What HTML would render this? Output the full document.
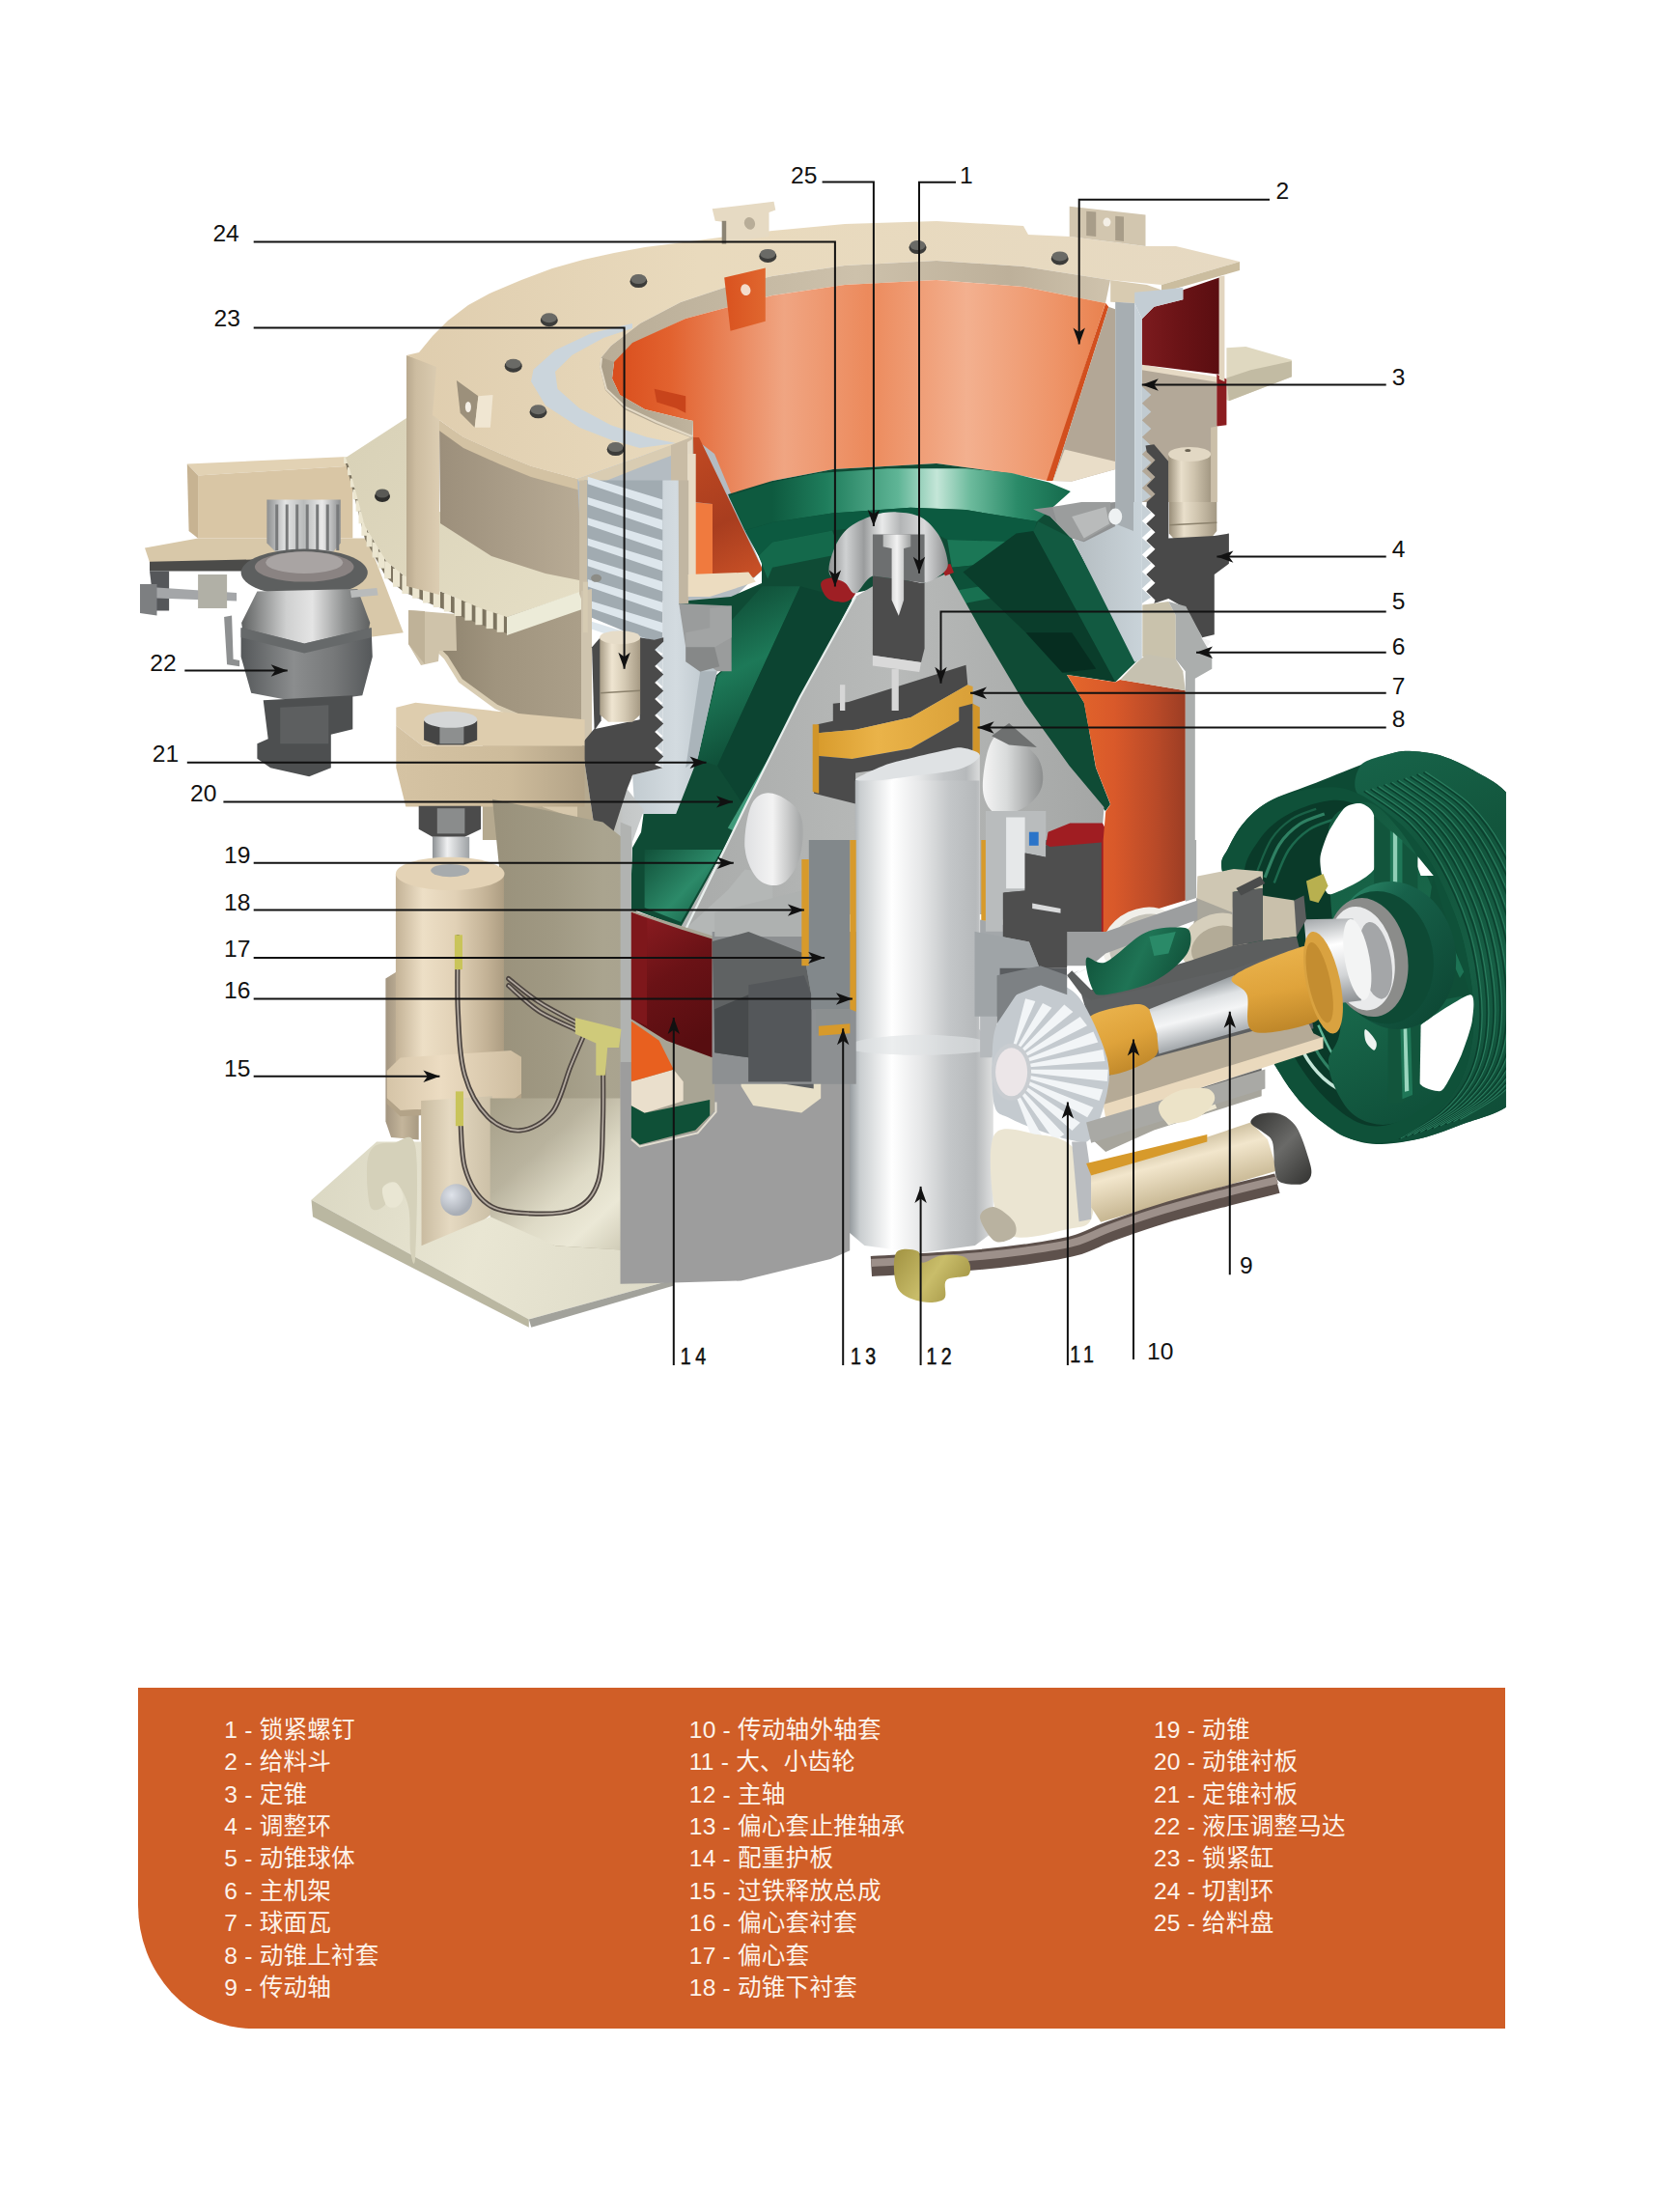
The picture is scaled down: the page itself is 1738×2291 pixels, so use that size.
<!DOCTYPE html>
<html lang="zh"><head><meta charset="utf-8"><title>圆锥破碎机结构图</title>
<style>
html,body{margin:0;padding:0;background:#fff}
body{width:1738px;height:2291px;position:relative;overflow:hidden;font-family:"Liberation Sans","Noto Sans CJK SC",sans-serif}
#dia{position:absolute;left:0;top:0}
#dia text{font-family:"Liberation Sans",sans-serif;font-size:24.6px;fill:#111}
#dia text.nb{font-size:24.5px;letter-spacing:5.6px;stroke:#111;stroke-width:0.55px}
#dia text.sp{letter-spacing:1.5px}
#legend{position:absolute;left:143px;top:1748px;width:1416px;height:353px;background:#d05e27;border-bottom-left-radius:118px 128px}
#legend .li{position:absolute;color:#fdf3ea;font-size:24.6px;line-height:30px;white-space:nowrap;letter-spacing:0.2px}
</style></head><body>
<svg id="dia" width="1738" height="1500" viewBox="0 0 1738 1500">
<defs>
<linearGradient id="g1" gradientUnits="userSpaceOnUse" x1="455.0" y1="0.0" x2="603.0" y2="0.0"><stop offset="0" stop-color="#8f846f"/><stop offset="0.4" stop-color="#a0947e"/><stop offset="1" stop-color="#ab9f89"/></linearGradient>
<linearGradient id="g2" gradientUnits="userSpaceOnUse" x1="358.0" y1="470.0" x2="605.0" y2="650.0"><stop offset="0" stop-color="#d9d2b8"/><stop offset="1" stop-color="#e6dfc6"/></linearGradient>
<linearGradient id="g3" gradientUnits="userSpaceOnUse" x1="455.0" y1="0.0" x2="605.0" y2="0.0"><stop offset="0" stop-color="#9c8f7b"/><stop offset="1" stop-color="#b9ac96"/></linearGradient>
<linearGradient id="g4" gradientUnits="userSpaceOnUse" x1="421.0" y1="0.0" x2="455.0" y2="0.0"><stop offset="0" stop-color="#b9a98e"/><stop offset="0.3" stop-color="#cdbda1"/><stop offset="1" stop-color="#dccdb2"/></linearGradient>
<linearGradient id="g5" gradientUnits="userSpaceOnUse" x1="421.0" y1="0.0" x2="1284.0" y2="0.0"><stop offset="0" stop-color="#dfcdae"/><stop offset="0.35" stop-color="#e9dabd"/><stop offset="1" stop-color="#e6d9c2"/></linearGradient>
<linearGradient id="g6" gradientUnits="userSpaceOnUse" x1="623.0" y1="0.0" x2="1150.0" y2="0.0"><stop offset="0" stop-color="#b9ad97"/><stop offset="0.5" stop-color="#cdc1ab"/><stop offset="0.8" stop-color="#bdb09a"/><stop offset="1" stop-color="#cfc3ad"/></linearGradient>
<linearGradient id="g7" gradientUnits="userSpaceOnUse" x1="633.0" y1="0.0" x2="1145.0" y2="0.0"><stop offset="0" stop-color="#d94d1c"/><stop offset="0.12" stop-color="#e2622f"/><stop offset="0.35" stop-color="#f0a582"/><stop offset="0.52" stop-color="#ec8a5c"/><stop offset="0.72" stop-color="#f3b08f"/><stop offset="0.9" stop-color="#ee9468"/><stop offset="1" stop-color="#e9824f"/></linearGradient>
<linearGradient id="g8" gradientUnits="userSpaceOnUse" x1="621.0" y1="0.0" x2="718.0" y2="0.0"><stop offset="0" stop-color="#a99d87"/><stop offset="1" stop-color="#c0b49e"/></linearGradient>
<linearGradient id="g9" gradientUnits="userSpaceOnUse" x1="718.0" y1="453.0" x2="790.0" y2="590.0"><stop offset="0" stop-color="#c24a22"/><stop offset="0.6" stop-color="#a83d1f"/><stop offset="1" stop-color="#c85026"/></linearGradient>
<linearGradient id="g10" gradientUnits="userSpaceOnUse" x1="750.2" y1="170.0" x2="792.8" y2="170.0"><stop offset="0" stop-color="#d9521f"/><stop offset="1" stop-color="#e0672f"/></linearGradient>
<linearGradient id="g11" gradientUnits="userSpaceOnUse" x1="800.0" y1="130.0" x2="1109.9" y2="130.0"><stop offset="0" stop-color="#0e5a3f"/><stop offset="0.18" stop-color="#1f7d5c"/><stop offset="0.42" stop-color="#5fb596"/><stop offset="0.55" stop-color="#c4e6d8"/><stop offset="0.66" stop-color="#6dbb9d"/><stop offset="0.82" stop-color="#2a8a68"/><stop offset="1" stop-color="#14694b"/></linearGradient>
<linearGradient id="g12" gradientUnits="userSpaceOnUse" x1="757.3" y1="607.3" x2="828.8" y2="750.3"><stop offset="0" stop-color="#0e4a34"/><stop offset="0.5" stop-color="#1d7958"/><stop offset="1" stop-color="#0f4f38"/></linearGradient>
<linearGradient id="g13" gradientUnits="userSpaceOnUse" x1="667.6" y1="870.0" x2="747.7" y2="945.1"><stop offset="0" stop-color="#0e4a34"/><stop offset="0.6" stop-color="#2c8a69"/><stop offset="1" stop-color="#12583f"/></linearGradient>
<linearGradient id="g14" gradientUnits="userSpaceOnUse" x1="707.3" y1="500.0" x2="1143.5" y2="500.0"><stop offset="0" stop-color="#a9abaa"/><stop offset="0.5" stop-color="#b8bab9"/><stop offset="1" stop-color="#a4a6a5"/></linearGradient>
<linearGradient id="g15" gradientUnits="userSpaceOnUse" x1="1018.4" y1="500.0" x2="1079.1" y2="500.0"><stop offset="0" stop-color="#f4f4f4"/><stop offset="0.4" stop-color="#d9dbdb"/><stop offset="1" stop-color="#8e9090"/></linearGradient>
<linearGradient id="g16" gradientUnits="userSpaceOnUse" x1="771.6" y1="500.0" x2="828.8" y2="500.0"><stop offset="0" stop-color="#dfe0e2"/><stop offset="0.5" stop-color="#f3f3f3"/><stop offset="1" stop-color="#a8aaaa"/></linearGradient>
<linearGradient id="g17" gradientUnits="userSpaceOnUse" x1="857.4" y1="500.0" x2="982.6" y2="500.0"><stop offset="0" stop-color="#8d8f90"/><stop offset="0.15" stop-color="#cfd1d2"/><stop offset="0.3" stop-color="#9a9c9d"/><stop offset="0.45" stop-color="#e9eaea"/><stop offset="0.6" stop-color="#b3b5b6"/><stop offset="0.8" stop-color="#d8d9da"/><stop offset="1" stop-color="#8a8c8d"/></linearGradient>
<linearGradient id="g18" gradientUnits="userSpaceOnUse" x1="914.7" y1="500.0" x2="943.3" y2="500.0"><stop offset="0" stop-color="#b9bbbb"/><stop offset="0.5" stop-color="#f2f2f2"/><stop offset="1" stop-color="#9fa1a1"/></linearGradient>
<linearGradient id="g19" gradientUnits="userSpaceOnUse" x1="843.1" y1="500.0" x2="1007.6" y2="500.0"><stop offset="0" stop-color="#d79a2b"/><stop offset="0.4" stop-color="#eab349"/><stop offset="1" stop-color="#d9a038"/></linearGradient>
<linearGradient id="g20" gradientUnits="userSpaceOnUse" x1="886.1" y1="500.0" x2="1016.6" y2="500.0"><stop offset="0" stop-color="#8e9498"/><stop offset="0.08" stop-color="#c9cdcf"/><stop offset="0.3" stop-color="#ffffff"/><stop offset="0.5" stop-color="#e6e7e8"/><stop offset="0.7" stop-color="#c3c6c8"/><stop offset="0.88" stop-color="#b6b9bb"/><stop offset="1" stop-color="#dfe0e0"/></linearGradient>
<linearGradient id="g21" gradientUnits="userSpaceOnUse" x1="878.7" y1="780.0" x2="1028.8" y2="780.0"><stop offset="0" stop-color="#8e9498"/><stop offset="0.08" stop-color="#c9cdcf"/><stop offset="0.3" stop-color="#ffffff"/><stop offset="0.5" stop-color="#e6e7e8"/><stop offset="0.7" stop-color="#c3c6c8"/><stop offset="0.88" stop-color="#b6b9bb"/><stop offset="1" stop-color="#dfe0e0"/></linearGradient>
<linearGradient id="g22" gradientUnits="userSpaceOnUse" x1="657.6" y1="520.0" x2="742.7" y2="520.0"><stop offset="0" stop-color="#c3ccd1"/><stop offset="0.5" stop-color="#d3dbe0"/><stop offset="1" stop-color="#b9c3c9"/></linearGradient>
<linearGradient id="g23" gradientUnits="userSpaceOnUse" x1="624.0" y1="0.0" x2="667.0" y2="0.0"><stop offset="0" stop-color="#b3af9f"/><stop offset="0.5" stop-color="#c3c6c6"/><stop offset="1" stop-color="#c9cccc"/></linearGradient>
<linearGradient id="g24" gradientUnits="userSpaceOnUse" x1="621.3" y1="520.0" x2="663.1" y2="520.0"><stop offset="0" stop-color="#a89c86"/><stop offset="0.3" stop-color="#efe5d1"/><stop offset="0.6" stop-color="#d6cbb5"/><stop offset="1" stop-color="#a69a84"/></linearGradient>
<linearGradient id="g25" gradientUnits="userSpaceOnUse" x1="410.3" y1="520.0" x2="605.6" y2="520.0"><stop offset="0" stop-color="#d5c3a3"/><stop offset="0.6" stop-color="#cdbb9b"/><stop offset="1" stop-color="#b3a387"/></linearGradient>
<linearGradient id="g26" gradientUnits="userSpaceOnUse" x1="1182.8" y1="170.0" x2="1262.8" y2="170.0"><stop offset="0" stop-color="#7c1b1e"/><stop offset="0.5" stop-color="#6a1316"/><stop offset="1" stop-color="#5a0e11"/></linearGradient>
<linearGradient id="g27" gradientUnits="userSpaceOnUse" x1="1210.3" y1="170.0" x2="1254.1" y2="170.0"><stop offset="0" stop-color="#9c917c"/><stop offset="0.3" stop-color="#e9dfcb"/><stop offset="0.6" stop-color="#cfc4ae"/><stop offset="1" stop-color="#a39883"/></linearGradient>
<linearGradient id="g28" gradientUnits="userSpaceOnUse" x1="1105.2" y1="520.0" x2="1227.8" y2="520.0"><stop offset="0" stop-color="#e4672b"/><stop offset="0.4" stop-color="#d9592a"/><stop offset="0.75" stop-color="#b94a28"/><stop offset="1" stop-color="#9c3d24"/></linearGradient>
<linearGradient id="g29" gradientUnits="userSpaceOnUse" x1="1110.2" y1="520.0" x2="1182.8" y2="520.0"><stop offset="0" stop-color="#b4bcc0"/><stop offset="1" stop-color="#c9d3d9"/></linearGradient>
<linearGradient id="g30" gradientUnits="userSpaceOnUse" x1="1211.5" y1="520.0" x2="1260.3" y2="520.0"><stop offset="0" stop-color="#9c917c"/><stop offset="0.3" stop-color="#e9dfcb"/><stop offset="0.6" stop-color="#cfc4ae"/><stop offset="1" stop-color="#a39883"/></linearGradient>
<linearGradient id="g31" gradientUnits="userSpaceOnUse" x1="1105.2" y1="870.0" x2="1227.8" y2="870.0"><stop offset="0" stop-color="#e4672b"/><stop offset="0.4" stop-color="#d9592a"/><stop offset="0.75" stop-color="#b94a28"/><stop offset="1" stop-color="#9c3d24"/></linearGradient>
<linearGradient id="g32" gradientUnits="userSpaceOnUse" x1="510.0" y1="780.0" x2="653.0" y2="780.0"><stop offset="0" stop-color="#99917b"/><stop offset="0.45" stop-color="#a09983"/><stop offset="0.8" stop-color="#aaa48f"/><stop offset="1" stop-color="#a9a38f"/></linearGradient>
<linearGradient id="g33" gradientUnits="userSpaceOnUse" x1="448.0" y1="780.0" x2="486.2" y2="780.0"><stop offset="0" stop-color="#8d9194"/><stop offset="0.4" stop-color="#f0f1f2"/><stop offset="1" stop-color="#9da1a4"/></linearGradient>
<linearGradient id="g34" gradientUnits="userSpaceOnUse" x1="399.4" y1="780.0" x2="433.7" y2="780.0"><stop offset="0" stop-color="#a39580"/><stop offset="0.5" stop-color="#c4b59b"/><stop offset="1" stop-color="#a89a82"/></linearGradient>
<linearGradient id="g35" gradientUnits="userSpaceOnUse" x1="409.9" y1="780.0" x2="521.9" y2="780.0"><stop offset="0" stop-color="#c3b296"/><stop offset="0.25" stop-color="#eddfc6"/><stop offset="0.55" stop-color="#e1d1b6"/><stop offset="0.85" stop-color="#c2b195"/><stop offset="1" stop-color="#ad9d82"/></linearGradient>
<linearGradient id="g36" gradientUnits="userSpaceOnUse" x1="400.8" y1="780.0" x2="540.0" y2="780.0"><stop offset="0" stop-color="#d5c4a7"/><stop offset="0.4" stop-color="#ecdcc2"/><stop offset="1" stop-color="#cdbc9f"/></linearGradient>
<linearGradient id="g37" gradientUnits="userSpaceOnUse" x1="436.1" y1="780.0" x2="510.0" y2="780.0"><stop offset="0" stop-color="#c9bba0"/><stop offset="0.4" stop-color="#e5d9c1"/><stop offset="1" stop-color="#cbbfa6"/></linearGradient>
<linearGradient id="g38" gradientUnits="userSpaceOnUse" x1="507.7" y1="1137.5" x2="650.4" y2="1290.2"><stop offset="0" stop-color="#a69f88"/><stop offset="0.35" stop-color="#b9b39e"/><stop offset="0.6" stop-color="#dedac6"/><stop offset="0.8" stop-color="#ebe8d6"/><stop offset="1" stop-color="#cfcbb6"/></linearGradient>
<linearGradient id="g39" gradientUnits="userSpaceOnUse" x1="322.5" y1="1225.1" x2="675.4" y2="1325.3"><stop offset="0" stop-color="#dbd8c3"/><stop offset="0.5" stop-color="#e9e6d3"/><stop offset="1" stop-color="#dedbc8"/></linearGradient>
<radialGradient id="g40" gradientUnits="userSpaceOnUse" cx="467.7" cy="1237.7" r="20.0"><stop offset="0" stop-color="#dfe3ea"/><stop offset="1" stop-color="#a9aeb6"/></radialGradient>
<linearGradient id="g41" gradientUnits="userSpaceOnUse" x1="653.9" y1="945.1" x2="737.7" y2="1070.2"><stop offset="0" stop-color="#8f1d22"/><stop offset="0.5" stop-color="#6a1216"/><stop offset="1" stop-color="#570d10"/></linearGradient>
<clipPath id="pclip"><rect x="1200" y="760" width="359.8" height="480"/></clipPath>
<linearGradient id="g42" gradientUnits="userSpaceOnUse" x1="1410.0" y1="781.2" x2="1558.8" y2="1163.8"><stop offset="0" stop-color="#176349"/><stop offset="0.3" stop-color="#12553c"/><stop offset="0.6" stop-color="#165e44"/><stop offset="1" stop-color="#0f4d37"/></linearGradient>
<linearGradient id="g43" gradientUnits="userSpaceOnUse" x1="1376.0" y1="845.0" x2="1514.1" y2="1142.5"><stop offset="0" stop-color="#14593f"/><stop offset="0.5" stop-color="#1a6b4d"/><stop offset="1" stop-color="#0f4f39"/></linearGradient>
<linearGradient id="g44" gradientUnits="userSpaceOnUse" x1="1388.8" y1="919.4" x2="1505.6" y2="1061.8"><stop offset="0" stop-color="#2f8e6d"/><stop offset="0.3" stop-color="#17614a"/><stop offset="1" stop-color="#0c4431"/></linearGradient>
<linearGradient id="g45" gradientUnits="userSpaceOnUse" x1="1350.5" y1="951.2" x2="1367.5" y2="1042.6"><stop offset="0" stop-color="#9fa3a6"/><stop offset="0.35" stop-color="#ffffff"/><stop offset="0.7" stop-color="#d3d5d7"/><stop offset="1" stop-color="#8f9396"/></linearGradient>
<linearGradient id="g46" gradientUnits="userSpaceOnUse" x1="1125.2" y1="970.1" x2="1232.8" y2="1020.2"><stop offset="0" stop-color="#0f5038"/><stop offset="0.5" stop-color="#1f7455"/><stop offset="1" stop-color="#0e4a34"/></linearGradient>
<linearGradient id="g47" gradientUnits="userSpaceOnUse" x1="1145.2" y1="1045.2" x2="1170.2" y2="1110.3"><stop offset="0" stop-color="#e9b14a"/><stop offset="0.5" stop-color="#dfa33b"/><stop offset="1" stop-color="#c0882a"/></linearGradient>
<linearGradient id="g48" gradientUnits="userSpaceOnUse" x1="1232.8" y1="1020.2" x2="1247.8" y2="1080.3"><stop offset="0" stop-color="#8f9599"/><stop offset="0.3" stop-color="#dfe2e4"/><stop offset="0.55" stop-color="#f4f5f6"/><stop offset="1" stop-color="#9fa4a8"/></linearGradient>
<linearGradient id="g49" gradientUnits="userSpaceOnUse" x1="1315.4" y1="987.6" x2="1330.4" y2="1065.2"><stop offset="0" stop-color="#e9b14a"/><stop offset="0.5" stop-color="#dfa33b"/><stop offset="1" stop-color="#c0882a"/></linearGradient>
<linearGradient id="g50" gradientUnits="userSpaceOnUse" x1="1212.8" y1="1182.6" x2="1227.8" y2="1240.2"><stop offset="0" stop-color="#cdbf9f"/><stop offset="0.35" stop-color="#f2e6cc"/><stop offset="1" stop-color="#c9b995"/></linearGradient>
<linearGradient id="g51" gradientUnits="userSpaceOnUse" x1="1295.4" y1="1162.6" x2="1355.4" y2="1220.1"><stop offset="0" stop-color="#3c3c3a"/><stop offset="0.5" stop-color="#6a6a68"/><stop offset="1" stop-color="#3a3a38"/></linearGradient>
<linearGradient id="g52" gradientUnits="userSpaceOnUse" x1="927.8" y1="1295.2" x2="1002.9" y2="1347.8"><stop offset="0" stop-color="#a39443"/><stop offset="0.5" stop-color="#c9bd6a"/><stop offset="1" stop-color="#9a8b3c"/></linearGradient>
<linearGradient id="g53" gradientUnits="userSpaceOnUse" x1="276.4" y1="520.0" x2="352.8" y2="520.0"><stop offset="0" stop-color="#8d8f90"/><stop offset="0.25" stop-color="#e3e4e4"/><stop offset="0.5" stop-color="#b9bbbb"/><stop offset="0.75" stop-color="#e9e9e9"/><stop offset="1" stop-color="#8d8f90"/></linearGradient>
<linearGradient id="g54" gradientUnits="userSpaceOnUse" x1="250.1" y1="520.0" x2="383.3" y2="520.0"><stop offset="0" stop-color="#5f6161"/><stop offset="0.35" stop-color="#cfd0d0"/><stop offset="0.55" stop-color="#e4e4e4"/><stop offset="0.8" stop-color="#8f9191"/><stop offset="1" stop-color="#5f6161"/></linearGradient>
<linearGradient id="g55" gradientUnits="userSpaceOnUse" x1="249.6" y1="520.0" x2="385.8" y2="520.0"><stop offset="0" stop-color="#55585a"/><stop offset="0.4" stop-color="#8b8d8e"/><stop offset="0.7" stop-color="#77797a"/><stop offset="1" stop-color="#55585a"/></linearGradient>
</defs>
<g id="machine">
<polygon points="193.8,480.5 360.3,472.9 365.3,482.5 205.1,492.5" fill="#e2d2b4" />
<polygon points="205.1,492.5 365.3,482.5 365.3,557.5 205.1,557.5" fill="#d9c6a5" />
<polygon points="193.8,480.5 205.1,492.5 205.1,557.5 195.6,550.0" fill="#c7b392" />
<polygon points="150.0,567.6 205.1,557.5 280.2,557.5 380.3,557.5 417.8,655.2 380.3,660.2 270.2,580.1 155.0,582.6" fill="#d8c8a9" />
<polygon points="155.0,581.8 270.2,579.3 270.2,591.6 155.0,591.6" fill="#4b4b49" />
<polygon points="155.0,591.6 175.1,591.6 175.1,632.6 160.0,632.6" fill="#55575a" />
<polygon points="147.5,607.6 245.1,613.9 245.1,622.6 147.5,618.9" fill="#a4a6a8" />
<polygon points="145.0,605.1 162.5,605.1 162.5,637.6 145.0,635.1" fill="#7d7f81" />
<polygon points="205.1,595.1 235.1,595.1 235.1,630.1 205.1,630.1" fill="#b1b0a6" />
<polygon points="473.0,600.0 603.0,600.0 603.0,768.0 561.0,750.0 514.0,730.0 477.0,703.0 462.0,680.0 455.0,674.0 470.0,650.0" fill="url(#g1)" />
<polyline points="455.0,674.0 462.0,681.0 477.0,705.0 514.0,732.0 561.0,752.0 603.0,770.0" fill="none" stroke="#d9cdb3" stroke-width="5.00" />
<polygon points="423.0,632.0 472.0,636.0 473.0,674.0 455.0,674.0 454.0,685.0 436.0,689.0 423.0,667.0" fill="#cfc3aa" />
<polygon points="423.0,632.0 440.0,633.0 440.0,688.0 423.0,667.0" fill="#bfb298" />
<polygon points="358.0,474.0 362.0,485.0 378.0,545.0 400.0,581.0 418.0,596.0 445.0,608.0 472.0,619.0 498.0,630.0 525.0,639.0 525.0,656.0 498.0,647.0 472.0,636.0 445.0,625.0 418.0,613.0 400.0,598.0 378.0,558.3 362.0,494.7 358.0,480.0" fill="#7d7460"/>
<rect x="356.1" y="473.0" width="3.8" height="7.0" fill="#ece6d0"/>
<rect x="360.0" y="484.1" width="4.1" height="8.1" fill="#ece6d0"/>
<rect x="362.9" y="495.5" width="4.4" height="9.2" fill="#ece6d0"/>
<rect x="365.7" y="506.9" width="4.7" height="10.3" fill="#ece6d0"/>
<rect x="368.6" y="518.3" width="5.1" height="11.4" fill="#ece6d0"/>
<rect x="371.5" y="529.7" width="5.4" height="12.6" fill="#ece6d0"/>
<rect x="374.4" y="541.1" width="5.7" height="13.7" fill="#ece6d0"/>
<rect x="379.6" y="551.5" width="6.0" height="14.8" fill="#ece6d0"/>
<rect x="385.6" y="561.6" width="6.3" height="15.9" fill="#ece6d0"/>
<rect x="391.6" y="571.6" width="6.6" height="17.0" fill="#ece6d0"/>
<rect x="398.1" y="581.3" width="6.9" height="18.1" fill="#ece6d0"/>
<rect x="407.0" y="588.8" width="7.2" height="19.0" fill="#ece6d0"/>
<rect x="416.4" y="595.9" width="7.2" height="19.0" fill="#ece6d0"/>
<rect x="427.2" y="600.7" width="7.2" height="19.0" fill="#ece6d0"/>
<rect x="438.0" y="605.5" width="7.2" height="19.0" fill="#ece6d0"/>
<rect x="448.8" y="610.0" width="7.2" height="19.0" fill="#ece6d0"/>
<rect x="459.8" y="614.5" width="7.2" height="19.0" fill="#ece6d0"/>
<rect x="470.7" y="619.0" width="7.2" height="19.0" fill="#ece6d0"/>
<rect x="481.5" y="623.6" width="7.2" height="19.0" fill="#ece6d0"/>
<rect x="492.4" y="628.2" width="7.2" height="19.0" fill="#ece6d0"/>
<rect x="503.6" y="632.1" width="7.2" height="19.0" fill="#ece6d0"/>
<rect x="514.7" y="635.8" width="7.2" height="19.0" fill="#ece6d0"/>
<polygon points="358.0,474.0 421.0,433.0 455.0,420.0 455.0,530.0 605.0,560.0 605.0,612.0 525.0,639.0 498.0,630.0 472.0,619.0 445.0,608.0 418.0,596.0 400.0,581.0 378.0,545.0 362.0,485.0" fill="url(#g2)" />
<ellipse cx="396.0" cy="514.0" rx="8.0" ry="6.0" fill="#2e2e2c" />
<ellipse cx="396.0" cy="511.0" rx="7.0" ry="4.5" fill="#5a5a56" />
<ellipse cx="441.0" cy="533.0" rx="8.0" ry="6.0" fill="#2e2e2c" />
<ellipse cx="441.0" cy="530.0" rx="7.0" ry="4.5" fill="#5a5a56" />
<polygon points="525.0,639.0 603.0,612.0 603.0,631.0 525.0,658.0" fill="#ecebd8" />
<polygon points="455.0,436.0 480.0,453.0 518.0,470.0 550.0,483.0 605.0,498.0 605.0,602.0 565.0,594.0 509.0,576.0 456.0,542.0" fill="url(#g3)" />
<polygon points="448.0,430.0 480.0,453.0 518.0,470.0 550.0,483.0 598.0,496.0 605.0,498.0 605.0,509.0 550.0,494.0 518.0,481.0 480.0,464.0 448.0,441.0" fill="#d3c2a3" />
<polygon points="421.0,368.0 455.0,378.0 455.0,616.0 421.0,607.0" fill="url(#g4)" />
<polygon points="421.0,368.0 434.0,365.0 448.0,348.0 464.0,332.0 485.0,316.0 507.0,304.0 540.0,290.0 572.0,278.0 604.0,269.0 636.0,262.0 668.0,256.0 700.0,252.0 745.0,246.0 800.0,239.0 875.0,232.0 970.0,229.0 1060.0,234.0 1065.0,243.0 1108.0,245.0 1186.0,255.0 1218.0,255.0 1284.0,271.0 1203.0,295.0 1150.0,290.0 1060.0,276.0 970.0,270.0 875.0,275.0 800.0,286.0 750.0,298.0 705.0,313.0 663.0,335.0 633.0,358.0 623.0,370.0 625.0,388.0 655.0,420.0 680.0,435.0 718.0,453.0 663.0,473.0 598.0,496.0 550.0,483.0 518.0,470.0 480.0,453.0 448.0,430.0 452.0,380.0" fill="url(#g5)" />
<polygon points="1284.0,271.0 1284.0,280.0 1203.0,303.0 1203.0,295.0" fill="#cbbd9f" />
<polygon points="655.0,335.0 612.6,345.0 575.0,362.7 552.5,382.8 550.0,395.0 565.0,420.0 600.0,442.8 632.6,455.4 662.6,464.0 700.0,459.0 670.0,452.8 632.6,440.3 600.0,422.8 577.5,402.8 575.0,385.0 592.6,367.7 625.0,350.0 655.0,340.0" fill="#cbd5dc" />
<polygon points="1150.0,290.0 1060.0,276.0 970.0,270.0 875.0,275.0 800.0,286.0 750.0,298.0 705.0,313.0 663.0,335.0 633.0,358.0 623.0,370.0 636.0,377.0 655.0,356.0 710.0,330.0 800.0,306.0 875.0,295.0 970.0,290.0 1060.0,297.0 1145.0,314.0" fill="url(#g6)" />
<polygon points="636.0,375.0 655.0,355.0 710.0,330.0 800.0,306.0 875.0,295.0 970.0,290.0 1060.0,297.0 1145.0,314.0 1085.0,498.0 1045.0,490.0 970.0,480.0 863.0,486.0 800.0,498.0 755.0,518.0 718.0,453.0 718.0,436.0 711.0,434.5 668.0,424.0 642.0,409.0 634.0,392.0" fill="url(#g7)" />
<polygon points="623.0,370.0 621.0,379.0 627.0,404.0 647.0,424.0 679.0,439.0 717.5,454.0 718.0,436.0 711.0,434.5 668.0,424.0 642.0,409.0 634.0,392.0 636.0,375.0" fill="url(#g8)" />
<polyline points="623.0,371.0 622.0,380.0 628.0,403.0 648.0,422.0 680.0,437.0 717.0,452.0" fill="none" stroke="#e4dac6" stroke-width="2.00" />
<polygon points="677.7,402.8 710.2,410.3 710.2,427.8 700.2,422.8 680.2,416.5" fill="#c8441b" />
<polygon points="1145.2,313.9 1148.2,317.7 1090.6,497.9 1083.9,497.9" fill="#d24f1e" />
<polygon points="598.0,496.0 663.0,473.0 718.0,453.0 740.0,470.0 790.0,590.0 757.0,622.0 605.0,622.0" fill="#b4bcc2" />
<polygon points="598.0,496.0 663.0,473.0 695.0,461.0 695.0,472.0 663.0,484.0 605.0,507.0" fill="#d9ccb2" />
<polygon points="695.0,461.0 718.0,452.0 718.0,600.0 695.0,640.0" fill="#c9bca5" />
<polygon points="712.0,458.0 717.0,455.0 717.0,598.0 712.0,600.0" fill="#e3d9c6" />
<polygon points="716.0,520.0 738.0,522.0 738.0,595.0 716.0,595.0" fill="#f07a3e" />
<polygon points="718.0,453.0 724.0,453.0 790.0,590.0 781.0,598.0 738.0,595.0 738.0,522.0 719.0,520.0" fill="url(#g9)" />
<polygon points="750.2,287.6 792.8,277.6 792.8,332.7 756.5,342.7" fill="url(#g10)" />
<ellipse cx="772.3" cy="300.2" rx="5.0" ry="6.0" fill="#f3dccb" transform="rotate(-20.0 772.3 300.2)" />
<polygon points="737.7,216.3 801.5,208.8 803.3,217.6 796.5,220.1 796.5,245.1 750.2,251.3 750.2,230.1 740.7,228.8" fill="#e6dac3" />
<polygon points="747.7,228.8 752.2,228.8 752.2,252.6 747.7,252.6" fill="#8c8474" />
<ellipse cx="776.5" cy="231.3" rx="5.5" ry="6.5" fill="#b8ad98" transform="rotate(-20.0 776.5 231.3)" />
<polygon points="1107.7,213.8 1186.5,222.6 1186.5,255.1 1107.7,245.1" fill="#d2c6af" />
<polygon points="1125.2,218.8 1135.2,219.6 1135.2,245.1 1125.2,244.1" fill="#a89d89" />
<polygon points="1155.2,223.8 1164.0,224.6 1164.0,250.1 1155.2,249.1" fill="#a89d89" />
<ellipse cx="1146.5" cy="230.1" rx="4.0" ry="4.5" fill="#f4efe6" />
<ellipse cx="661.4" cy="291.6" rx="9.0" ry="6.5" fill="#3c3c3a" />
<ellipse cx="661.4" cy="289.1" rx="8.0" ry="5.0" fill="#6a6a66" />
<ellipse cx="568.8" cy="331.7" rx="9.0" ry="6.5" fill="#3c3c3a" />
<ellipse cx="568.8" cy="329.2" rx="8.0" ry="5.0" fill="#6a6a66" />
<ellipse cx="795.3" cy="265.4" rx="9.0" ry="6.5" fill="#3c3c3a" />
<ellipse cx="795.3" cy="262.9" rx="8.0" ry="5.0" fill="#6a6a66" />
<ellipse cx="950.5" cy="256.6" rx="9.0" ry="6.5" fill="#3c3c3a" />
<ellipse cx="950.5" cy="254.1" rx="8.0" ry="5.0" fill="#6a6a66" />
<ellipse cx="557.5" cy="426.8" rx="9.0" ry="6.5" fill="#3c3c3a" />
<ellipse cx="557.5" cy="424.3" rx="8.0" ry="5.0" fill="#6a6a66" />
<ellipse cx="637.6" cy="465.6" rx="9.0" ry="6.5" fill="#3c3c3a" />
<ellipse cx="637.6" cy="463.1" rx="8.0" ry="5.0" fill="#6a6a66" />
<ellipse cx="531.7" cy="379.2" rx="9.0" ry="6.5" fill="#3c3c3a" />
<ellipse cx="531.7" cy="376.7" rx="8.0" ry="5.0" fill="#6a6a66" />
<ellipse cx="1097.7" cy="267.9" rx="9.0" ry="6.5" fill="#3c3c3a" />
<ellipse cx="1097.7" cy="265.4" rx="8.0" ry="5.0" fill="#6a6a66" />
<polygon points="472.9,394.0 495.4,410.3 491.7,442.8 476.7,427.8" fill="#9c907b" />
<polygon points="495.4,410.3 510.5,409.0 507.9,442.8 491.7,442.8" fill="#f0e6d2" />
<ellipse cx="484.9" cy="421.5" rx="3.0" ry="5.5" fill="#f4efe6" />
<polygon points="754.0,512.0 800.0,498.0 863.0,486.0 970.0,480.0 1045.0,490.0 1075.0,500.0 1088.0,535.0 1110.0,558.0 1178.0,684.0 1155.0,706.0 1105.0,699.0 1123.0,728.0 1135.0,795.0 1150.0,833.0 1145.0,840.0 1062.0,748.0 962.0,612.0 950.0,600.0 886.0,614.0 829.0,722.0 772.0,836.0 707.0,961.0 659.0,943.0 652.0,960.0 655.0,878.0 664.0,862.0 667.0,840.0 695.0,843.0 718.0,787.0 741.0,700.0 757.0,686.0 757.0,629.0 707.0,632.0 702.0,623.0 757.0,618.0 789.0,604.0 789.0,582.0" fill="#0f4b35" />
<polygon points="754.7,513.8 800.0,499.5 847.7,490.0 919.2,485.2 1000.2,485.2 1047.9,490.0 1086.1,499.5 1108.9,509.0 1074.1,540.0 1000.2,528.1 943.0,525.7 862.0,531.4 800.0,541.0 771.4,549.5" fill="url(#g11)" />
<polygon points="771.4,549.5 800.0,541.0 862.0,531.4 943.0,525.7 1000.2,528.1 1074.1,540.0 1067.0,561.5 981.2,559.1 943.0,540.0 862.0,549.5 800.0,561.5 785.7,575.8" fill="#0c5a40" />
<polygon points="981.2,559.1 1067.0,561.5 1078.9,578.2 985.9,587.7" fill="#1b7756" />
<polygon points="985.9,587.7 1078.9,578.2 1086.1,594.8 990.7,611.5" fill="#0d5139" />
<polygon points="990.7,611.5 1086.1,594.8 1090.8,606.8 995.5,625.8" fill="#187050" />
<polygon points="785.7,575.8 800.0,561.5 862.0,549.5 871.5,573.4 800.0,587.7 795.2,599.6" fill="#14694b" />
<polygon points="789.5,607.3 828.8,607.3 743.0,793.2 721.6,786.1 743.0,700.2 757.3,685.9 757.3,643.0" fill="url(#g12)" />
<polygon points="828.8,607.3 882.5,621.6 771.6,836.1 743.0,793.2" fill="#0c4431" />
<polygon points="864.6,668.1 871.8,671.6 760.9,861.1 753.8,857.6" fill="#3f9a7a" />
<polygon points="667.6,880.0 747.7,880.0 705.2,955.1 667.6,940.1" fill="url(#g13)" />
<polygon points="1075.1,540.0 1110.2,557.5 1177.7,683.9 1155.2,706.5 1070.1,550.0" fill="#125a41" />
<polygon points="997.5,592.6 1062.6,655.2 1100.2,696.5 1155.2,706.5 1070.1,550.0 1052.6,552.5" fill="#0a3d2b" />
<polygon points="1062.6,655.2 1110.2,655.2 1135.2,692.7 1100.2,696.5" fill="#062d20" />
<polygon points="705.2,960.1 755.2,870.0 840.3,870.0 840.3,975.1 737.7,975.1" fill="#b4b7b6" />
<polygon points="886.1,618.0 903.9,607.3 957.6,603.7 982.6,593.0 1014.8,650.2 1061.3,728.8 1107.7,793.2 1143.5,836.1 1141.7,861.1 1136.4,861.1 1125.6,975.6 1039.8,975.6 1039.8,947.0 800.2,947.0 800.2,904.1 771.6,900.5 753.8,921.9 710.8,961.3 771.6,836.1 828.8,721.7" fill="url(#g14)" />
<polyline points="886.1,618.0 828.8,721.7 771.6,836.1 710.8,961.3" fill="none" stroke="#e9efed" stroke-width="2.20" />
<path d="M1021.9,782.5 C1024.3,772.3 1027.9,764.0 1032.7,761.0 C1037.4,758.0 1043.4,760.4 1050.5,764.6 C1057.7,768.8 1070.8,777.7 1075.6,786.1 C1080.3,794.4 1081.5,806.3 1079.1,814.7 C1076.8,823.0 1069.0,831.3 1061.3,836.1 C1053.5,840.9 1039.8,845.6 1032.7,843.3 C1025.5,840.9 1020.1,831.9 1018.4,821.8 C1016.6,811.7 1019.5,792.6 1021.9,782.5Z" fill="url(#g15)" />
<polygon points="1027.1,762.3 1045.1,749.0 1073.9,774.1 1045.1,771.5" fill="#6e7070" />
<path d="M778.8,832.5 C783.6,823.0 791.9,820.0 800.2,821.8 C808.6,823.6 824.1,832.5 828.8,843.3 C833.6,854.0 831.8,874.3 828.8,886.2 C825.9,898.1 818.1,910.6 811.0,914.8 C803.8,919.0 792.5,917.2 785.9,911.2 C779.4,905.2 772.8,892.1 771.6,879.0 C770.4,865.9 774.0,842.1 778.8,832.5Z" fill="url(#g16)" />
<polygon points="903.9,596.5 957.6,603.7 957.6,671.6 954.0,685.9 903.9,678.8" fill="#4c4c4c" />
<polygon points="903.9,678.8 954.0,685.9 952.2,695.9 903.9,689.5" fill="#d9d9d9" />
<path d="M850.3,603.7 C851.5,600.1 859.2,598.3 864.6,598.3 C870.0,598.3 878.9,601.0 882.5,603.7 C886.1,606.4 887.2,611.1 886.1,614.4 C884.9,617.7 880.1,622.5 875.3,623.4 C870.6,624.3 861.6,623.1 857.4,619.8 C853.3,616.5 849.1,607.3 850.3,603.7Z" fill="#9e1f24" />
<polygon points="973.7,585.8 984.4,584.0 988.0,593.0 979.0,596.5" fill="#a02024" />
<path d="M859.2,594.8 C857.2,589.4 859.8,579.3 862.8,571.5 C865.8,563.8 870.3,554.5 877.1,548.3 C884.0,542.0 895.3,536.9 903.9,534.0 C912.6,531.0 920.6,530.1 929.0,530.4 C937.3,530.7 946.8,531.9 954.0,535.8 C961.1,539.6 967.4,546.8 971.9,553.6 C976.3,560.5 979.6,570.6 980.8,576.9 C982.0,583.1 982.9,586.7 979.0,591.2 C975.1,595.6 965.3,602.5 957.6,603.7 C949.8,604.9 941.5,599.5 932.5,598.3 C923.6,597.1 911.7,593.9 903.9,596.5 C896.2,599.2 890.8,613.2 886.1,614.4 C881.3,615.6 879.8,607.0 875.3,603.7 C870.9,600.4 861.3,600.1 859.2,594.8Z" fill="url(#g17)" />
<polygon points="903.9,553.6 957.6,553.6 957.6,603.7 903.9,596.5" fill="#6d6f70" />
<polygon points="914.7,553.6 943.3,553.6 943.3,566.2 936.1,567.9 936.1,621.6 930.8,637.7 923.6,621.6 923.6,567.9 914.7,566.2" fill="url(#g18)" />
<polygon points="846.7,750.3 862.8,746.7 862.8,728.8 878.9,727.1 1000.5,688.8 1002.3,709.2 943.3,743.1 886.1,755.7 846.7,759.2" fill="#494949" />
<polygon points="843.1,750.3 846.7,759.2 886.1,755.7 943.3,743.1 1002.3,709.2 1007.6,711.0 1007.6,736.0 993.3,746.7 943.3,775.3 882.5,786.1 843.1,782.5" fill="url(#g19)" />
<polygon points="843.1,782.5 882.5,786.1 943.3,775.3 993.3,746.7 993.3,732.4 1007.6,728.8 1007.6,778.9 993.3,786.1 886.1,800.4 886.1,832.5 843.1,821.8" fill="#4b4b4b" />
<polygon points="841.7,750.3 848.2,750.3 848.2,821.8 841.7,820.0" fill="#d1952a" />
<polygon points="1007.6,728.8 1014.8,732.4 1014.8,782.5 1007.6,778.9" fill="#d1952a" />
<polygon points="923.6,693.1 930.8,693.1 930.8,736.0 923.6,736.0" fill="#d6d6d6" />
<polygon points="870.0,709.2 875.3,709.2 875.3,736.0 870.0,736.0" fill="#d6d6d6" />
<polygon points="886.1,807.5 943.3,786.1 996.9,775.3 1014.8,782.5 1014.8,999.9 886.1,999.9" fill="url(#g20)" />
<path d="M886.1,807.5 C887.2,805.0 905.1,796.9 914.7,793.2 C924.2,789.5 932.5,788.0 943.3,785.3 C954.0,782.7 970.1,778.9 979.0,777.1 C988.0,775.3 990.9,773.7 996.9,774.6 C1002.9,775.5 1015.4,778.8 1014.8,782.5 C1014.2,786.2 1005.2,793.2 993.3,796.8 C981.4,800.4 957.6,802.0 943.3,803.9 C929.0,805.8 917.0,807.6 907.5,808.2 C898.0,808.8 884.9,810.0 886.1,807.5Z" fill="#dfe2e4" />
<polygon points="885.8,808.6 1014.5,808.6 1014.5,1066.1 1028.8,1085.1 1028.8,1275.8 1009.8,1290.1 952.6,1297.8 895.4,1290.1 878.7,1275.8 878.7,1085.1 885.8,1066.1" fill="url(#g21)" />
<path d="M878.7,1085.1 C878.7,1082.9 883.0,1078.8 895.4,1076.5 C907.7,1074.3 933.5,1071.9 952.6,1071.8 C971.6,1071.6 997.1,1073.4 1009.8,1075.6 C1022.5,1077.8 1028.8,1082.7 1028.8,1085.1 C1028.8,1087.5 1022.5,1088.6 1009.8,1089.9 C997.1,1091.2 971.6,1092.8 952.6,1092.8 C933.5,1092.8 907.7,1091.2 895.4,1089.9 C883.0,1088.6 878.7,1087.4 878.7,1085.1Z" fill="#dfe2e4" opacity="0.6"/>
<polygon points="1016.3,870.0 1021.3,870.0 1021.3,953.8 1016.3,953.8" fill="#d79a2b" />
<polygon points="1021.3,870.0 1041.3,870.0 1041.3,952.6 1021.3,952.6" fill="#c9ccce" />
<polygon points="1040.1,870.0 1142.7,870.0 1142.7,967.6 1130.2,970.1 1130.2,987.6 1105.2,1000.2 1070.1,965.1 1040.1,952.6" fill="#5f6263" />
<polygon points="1070.1,870.0 1142.7,870.0 1142.7,920.1 1100.2,927.6 1070.1,915.1" fill="#505355" />
<polygon points="1015.1,952.6 1070.1,965.1 1105.2,1000.2 1032.6,1010.2 1015.1,1010.2" fill="#a3a7aa" />
<polygon points="1015.1,1010.2 1032.6,1010.2 1032.6,1060.2 1027.6,1095.3 1015.1,1095.3" fill="#b5b9bc" />
<polygon points="1020.9,840.0 1083.3,840.0 1083.3,887.7 1061.6,883.4 1061.6,922.5 1038.8,924.6 1038.8,964.8 1020.9,964.8" fill="#b9bcbd" />
<polygon points="1042.1,846.5 1061.6,846.5 1061.6,920.3 1042.1,920.3" fill="#e6e8e9" />
<polygon points="1065.9,861.7 1075.7,861.7 1075.7,875.8 1065.9,875.8" fill="#2b74c9" />
<polygon points="1061.6,883.4 1083.3,887.7 1083.3,875.8 1140.8,872.5 1140.8,965.9 1107.2,970.2 1105.0,1002.7 1076.8,1002.7 1065.9,975.6 1038.8,970.2 1038.8,924.6 1061.6,922.5" fill="#4e4e4e" />
<polygon points="1083.3,874.7 1085.5,861.7 1108.3,852.5 1141.9,852.5 1144.6,857.4 1144.6,964.8 1140.8,965.9 1140.8,872.5 1087.6,876.9" fill="#a01d22" />
<polygon points="1069.2,935.5 1098.5,940.9 1098.5,945.8 1069.2,940.9" fill="#d9dadb" />
<polygon points="1009.5,964.8 1065.9,975.6 1076.8,1002.7 1035.6,1002.7 1035.6,1052.7 1009.5,1052.7" fill="#9fa4a7" />
<polygon points="1035.6,1002.7 1105.0,1002.7 1105.0,1024.4 1035.6,1052.7" fill="#5a5d60" />
<polygon points="1041.0,1049.4 1045.3,1047.2 1076.8,1017.9 1072.5,1020.1" fill="#8d9194" />
<polygon points="1051.3,1043.4 1055.6,1041.3 1087.1,1014.7 1082.8,1016.9" fill="#8d9194" />
<polygon points="1061.6,1037.5 1065.9,1035.3 1097.4,1011.4 1093.1,1013.6" fill="#8d9194" />
<polygon points="1071.9,1031.5 1076.3,1029.3 1107.7,1008.2 1103.4,1010.3" fill="#8d9194" />
<polygon points="1082.2,1025.5 1086.6,1023.4 1118.0,1004.9 1113.7,1007.1" fill="#8d9194" />
<polygon points="1092.5,1019.6 1096.9,1017.4 1128.3,1001.7 1124.0,1003.8" fill="#8d9194" />
<polygon points="499.9,740.3 550.0,745.3 602.6,770.3 617.6,869.9 499.9,869.9" fill="#b5a98f" />
<polyline points="539.0,840.0 631.0,868.0" fill="none" stroke="#e3d9c3" stroke-width="4.00" />
<polygon points="562.0,790.0 598.0,790.0 598.0,848.0 562.0,836.0" fill="#d6c7ab" />
<polygon points="605.1,497.5 686.4,497.5 686.4,670.2 607.6,637.6" fill="#a1abb1" />
<polygon points="608.8,493.7 686.4,517.5 686.4,527.5 608.8,501.2" fill="#dde6ec" />
<polygon points="608.8,515.0 686.4,538.8 686.4,548.8 608.8,522.5" fill="#dde6ec" />
<polygon points="608.8,536.3 686.4,560.0 686.4,570.1 608.8,543.8" fill="#dde6ec" />
<polygon points="608.8,557.5 686.4,581.3 686.4,591.3 608.8,565.1" fill="#dde6ec" />
<polygon points="608.8,578.8 686.4,602.6 686.4,612.6 608.8,586.3" fill="#dde6ec" />
<polygon points="608.8,600.1 686.4,623.9 686.4,633.9 608.8,607.6" fill="#dde6ec" />
<polygon points="608.8,621.4 686.4,645.1 686.4,655.2 608.8,628.9" fill="#dde6ec" />
<polygon points="608.8,642.6 686.4,666.4 686.4,676.4 608.8,650.2" fill="#dde6ec" />
<polygon points="600.1,497.5 608.1,497.5 608.1,637.6 600.1,615.1" fill="#c9bda6" />
<polygon points="602.0,612.0 613.0,610.0 613.0,768.0 602.0,766.0" fill="#cfc4ae" />
<polygon points="712.7,469.9 720.7,469.9 720.7,617.6 712.7,617.6" fill="#e8dcc6" />
<polygon points="700.2,497.5 713.2,497.5 713.2,625.1 702.7,625.1" fill="#c1b6a2" />
<polygon points="712.7,595.1 775.3,592.6 782.8,602.6 735.2,618.1 712.7,618.1" fill="#ecdcc0" />
<polygon points="686.4,497.5 702.7,497.5 703.2,625.1 710.2,660.2 742.7,695.2 722.7,785.3 700.2,842.9 657.6,842.9 655.1,802.8 686.4,795.3" fill="url(#g22)" />
<polygon points="686.4,660.2 686.4,660.2 677.2,668.7 686.4,677.2 677.2,685.7 686.4,694.2 677.2,702.7 686.4,711.2 677.2,719.7 686.4,728.2 677.2,736.8 686.4,745.3 677.2,753.8 686.4,762.3 677.2,770.8 686.4,779.3 677.2,787.8 686.4,795.3" fill="#cfd7dc" />
<polygon points="725.2,695.2 742.7,695.2 722.7,785.3 710.2,795.3" fill="#aab4ba" />
<polygon points="703.2,625.1 757.7,627.6 757.7,695.2 742.7,695.2 710.2,670.2" fill="#9a9c9c" />
<polygon points="642.0,808.0 667.0,839.0 655.0,872.0 652.0,960.0 627.0,960.0 624.0,872.0 633.0,855.0 655.0,805.0" fill="url(#g23)" />
<polygon points="613.1,670.2 622.6,659.2 622.6,746.5 615.6,756.5" fill="#4a4a4a" />
<polygon points="735.2,630.1 757.7,627.6 757.7,660.2 740.2,670.2 710.2,670.2 710.2,655.2 735.2,650.2" fill="#a2a4a4" />
<polygon points="710.2,670.2 740.2,670.2 745.2,690.2 725.2,695.7 710.2,685.2" fill="#868888" />
<polygon points="662.6,660.2 677.7,662.7 687.2,660.2 687.2,664.4 678.2,672.9 687.2,681.4 678.2,690.0 687.2,698.5 678.2,707.0 687.2,715.5 678.2,724.0 687.2,732.5 678.2,741.0 687.2,749.5 678.2,758.0 687.2,766.5 678.2,775.1 687.2,783.6 678.2,792.1 686.4,795.3 655.1,802.8 650.1,815.4 632.6,869.9 617.6,869.9 602.6,770.3 615.1,755.3 662.6,745.3" fill="#4a4a4a" />
<polygon points="621.3,660.2 663.1,660.2 663.1,740.3 655.1,747.8 630.1,747.8 621.3,740.3" fill="url(#g24)" />
<ellipse cx="642.1" cy="660.2" rx="21.0" ry="7.0" fill="#e6dcc8" />
<polyline points="622.1,717.7 663.1,715.2" fill="none" stroke="#8b816c" stroke-width="1.50" />
<polygon points="603.8,602.6 608.8,602.6 608.8,655.2 603.8,655.2" fill="#d6cbb2" />
<ellipse cx="617.6" cy="598.8" rx="5.5" ry="4.0" fill="#8c8c86" />
<polygon points="410.3,732.8 430.4,727.7 550.0,740.3 605.6,745.3 605.6,772.8 495.4,772.8 437.9,772.8 410.3,751.5" fill="#decdae" />
<polygon points="410.3,751.5 437.9,772.8 605.6,772.8 605.6,835.4 420.3,835.4 410.3,795.3" fill="url(#g25)" />
<polygon points="439.1,746.5 494.2,746.5 494.2,766.5 480.4,771.5 452.9,771.5 439.1,766.5" fill="#454545" />
<polygon points="455.4,746.5 480.4,746.5 480.4,770.3 455.4,770.3" fill="#8d8f8f" />
<ellipse cx="466.7" cy="745.3" rx="27.5" ry="8.5" fill="#d5d7d8" />
<polygon points="1148.2,317.7 1155.2,320.2 1155.2,485.9 1110.2,498.4 1090.6,497.9" fill="#b3a796" />
<polygon points="1090.6,497.9 1102.7,465.4 1155.2,477.9 1155.2,485.9 1110.2,498.4" fill="#e9ddc8" />
<polygon points="1150.2,290.1 1187.8,295.1 1202.8,300.2 1175.2,313.9 1150.2,312.7" fill="#d8cbb1" />
<polygon points="1182.8,377.7 1260.3,392.8 1260.3,519.9 1182.8,519.9" fill="#b3a898" />
<polygon points="1182.8,377.7 1260.3,390.3 1260.3,395.8 1182.8,383.3" fill="#e6dac5" />
<polygon points="1270.4,360.2 1290.4,359.0 1337.9,372.7 1337.9,390.3 1272.9,415.3 1270.4,414.0" fill="#dfd8c0" />
<polygon points="1270.4,391.5 1295.4,383.3 1337.9,374.0 1337.9,390.3 1272.9,415.3" fill="#c2bba3" />
<polygon points="1182.8,330.2 1195.3,317.7 1225.3,310.2 1225.3,300.2 1262.8,287.6 1262.8,387.8 1182.8,377.7" fill="url(#g26)" />
<polygon points="1260.3,387.8 1270.4,392.8 1270.4,440.3 1260.3,441.6" fill="#8b1d20" />
<polygon points="1262.8,286.4 1268.4,285.6 1268.4,395.3 1262.8,392.8" fill="#e2d5bf" />
<polygon points="1175.2,302.7 1202.8,300.2 1225.3,297.7 1225.3,310.2 1195.3,317.7 1182.8,330.2 1175.2,313.9" fill="#c3cdd4" />
<polygon points="1155.2,312.7 1175.2,313.9 1175.2,519.9 1155.2,519.9" fill="#a7aeb2" />
<polygon points="1175.2,313.9 1182.8,330.2 1182.8,519.9 1175.2,519.9" fill="#c8d2d9" />
<polygon points="1182.8,395.3 1182.8,400.3 1192.3,409.0 1182.8,417.8 1192.3,426.6 1182.8,435.3 1192.3,444.1 1182.8,452.8 1192.3,461.6 1182.8,470.4 1192.3,479.1 1182.8,487.9 1192.3,496.6 1182.8,505.4 1192.3,514.2 1182.8,519.9" fill="#c1cbd1" />
<polygon points="1186.5,461.6 1195.3,460.3 1210.3,477.9 1210.3,519.9 1187.8,519.9 1196.5,511.7 1187.8,502.9 1196.5,494.1 1187.8,485.4 1196.5,476.6 1187.8,467.9" fill="#494949" />
<polygon points="1210.3,470.4 1254.1,470.4 1254.1,519.9 1210.3,519.9" fill="url(#g27)" />
<ellipse cx="1232.1" cy="470.4" rx="22.0" ry="7.5" fill="#e2d8c4" />
<ellipse cx="1230.3" cy="466.6" rx="3.0" ry="1.5" fill="#6b6353" />
<polygon points="1254.1,442.8 1260.8,441.6 1260.8,519.9 1254.1,519.9" fill="#cbbfa9" />
<polygon points="1105.2,699.0 1155.2,706.5 1160.2,704.0 1227.8,715.2 1227.8,869.9 1142.7,869.9 1145.2,840.4 1150.2,832.9 1135.2,795.3 1122.7,727.7" fill="url(#g28)" />
<polygon points="1155.2,520.0 1182.8,520.0 1182.8,682.7 1175.2,685.7 1111.4,558.8 1122.7,560.0 1150.2,543.8 1155.2,542.5" fill="url(#g29)" />
<polygon points="1155.2,520.0 1174.0,520.0 1174.0,550.0 1155.2,542.5" fill="#a7aeb2" />
<polygon points="1182.8,520.0 1182.8,522.0 1192.3,530.8 1182.8,539.5 1192.3,548.3 1182.8,557.0 1192.3,565.8 1182.8,574.6 1192.3,583.3 1182.8,592.1 1192.3,600.8 1182.8,609.6 1192.3,618.4 1182.8,625.1" fill="#c6d0d6" />
<polygon points="1070.1,527.5 1090.1,525.0 1155.2,520.0 1155.2,545.0 1122.7,561.3 1110.2,557.5 1087.6,535.0" fill="#8f9192" />
<polygon points="1090.1,525.0 1120.2,520.0 1150.2,520.0 1150.2,543.8 1122.7,560.0 1110.2,557.5 1095.1,542.5" fill="#9b9d9d" />
<polygon points="1110.2,535.0 1145.2,525.0 1149.0,542.5 1122.7,557.5" fill="#b9bbbb" />
<ellipse cx="1155.2" cy="535.0" rx="7.0" ry="8.5" fill="#eef1f2" />
<polygon points="1210.8,520.0 1260.3,520.0 1260.3,550.0 1250.3,562.6 1220.3,563.1 1210.8,552.5" fill="url(#g30)" />
<polyline points="1211.5,543.8 1260.3,541.3" fill="none" stroke="#8b816c" stroke-width="1.50" />
<polygon points="1187.8,520.0 1210.3,520.0 1210.3,557.5 1257.8,555.0 1272.9,552.5 1272.9,583.8 1257.8,595.1 1257.8,657.2 1245.3,660.2 1227.8,630.1 1210.3,620.1 1195.3,625.1 1196.5,621.4 1187.3,612.6 1196.5,603.8 1187.3,595.1 1196.5,586.3 1187.3,577.6 1196.5,568.8 1187.3,560.0 1196.5,551.3 1187.3,542.5 1196.5,533.8 1187.3,525.0" fill="#494949" />
<polygon points="1183.3,626.4 1210.3,623.1 1217.8,637.6 1217.8,682.7 1210.3,685.2 1187.8,680.2 1183.3,680.2" fill="#c9c2ac" />
<polygon points="1160.2,704.0 1177.7,685.7 1187.8,677.7 1217.8,682.7 1225.3,695.2 1227.8,715.2" fill="#c6c1b0" />
<polygon points="1210.3,623.1 1228.3,628.1 1245.3,660.2 1255.3,680.2 1255.3,692.7 1237.8,702.7 1237.8,869.9 1227.8,869.9 1227.8,695.2 1217.8,682.7 1217.8,637.6" fill="#abaead" />
<polygon points="1244.1,660.2 1254.1,663.9 1250.3,670.2" fill="#f2f2f2" />
<polygon points="1142.7,870.0 1227.8,870.0 1227.8,932.6 1195.3,942.6 1160.2,965.1 1145.2,987.6 1130.2,987.6 1130.2,970.1 1142.7,967.6" fill="url(#g31)" />
<polygon points="1227.8,870.0 1239.1,870.0 1239.1,930.1 1227.8,933.8" fill="#abaead" />
<polygon points="510.0,827.7 624.4,851.5 648.3,870.6 654.0,875.4 654.0,1318.7 529.1,1318.7 519.5,1209.1 519.5,923.0" fill="url(#g32)" />
<polygon points="433.7,834.8 498.1,834.8 498.1,858.7 481.4,866.8 448.0,866.8 433.7,858.7" fill="#4b4b4b" />
<polygon points="452.8,837.2 481.4,837.2 481.4,863.4 452.8,863.4" fill="#8a8c8c" />
<polygon points="448.0,866.8 486.2,866.8 486.2,904.9 448.0,904.9" fill="url(#g33)" />
<polygon points="399.4,1013.6 414.7,1004.1 433.7,1004.1 433.7,1180.5 405.1,1178.1 399.4,1161.4" fill="url(#g34)" />
<polygon points="409.9,904.9 521.9,904.9 521.9,1125.6 409.9,1125.6" fill="url(#g35)" />
<ellipse cx="466.2" cy="904.9" rx="56.3" ry="17.2" fill="#e4d3b6" />
<ellipse cx="466.2" cy="901.6" rx="20.0" ry="6.7" fill="#a7abad" />
<polygon points="400.8,1109.0 414.7,1095.6 529.1,1088.0 540.0,1094.7 540.0,1132.8 524.3,1144.7 414.7,1150.0 400.8,1137.6" fill="url(#g36)" />
<polygon points="400.8,1137.6 414.7,1150.0 524.3,1144.7 540.0,1132.8 540.0,1138.5 524.3,1150.9 414.7,1156.2 400.8,1143.3" fill="#b3a388" />
<polygon points="436.1,1140.0 510.0,1135.2 510.0,1256.8 455.2,1299.7 436.1,1299.7" fill="url(#g37)" />
<polygon points="642.6,851.5 654.0,856.3 654.0,1323.5 642.6,1323.5" fill="#b1b3b1" />
<polygon points="507.7,1137.5 645.4,1137.5 650.4,1225.1 655.4,1295.2 575.3,1290.2 525.3,1275.2 507.7,1260.2" fill="url(#g38)" />
<polygon points="322.5,1242.7 390.1,1182.6 436.4,1182.6 436.4,1290.2 507.7,1260.2 575.3,1290.2 655.4,1295.2 698.0,1325.3 547.8,1366.6" fill="url(#g39)" />
<polygon points="322.5,1242.7 547.8,1366.6 547.8,1374.8 324.0,1260.2" fill="#bab7a1" />
<polygon points="547.8,1366.6 698.0,1325.3 698.0,1331.5 550.3,1374.8" fill="#a2a29b" />
<path d="M380.1,1207.6 C380.7,1197.2 383.0,1191.6 387.6,1187.6 C392.2,1183.6 400.5,1183.8 407.6,1183.8 C414.7,1183.8 426.4,1168.2 430.2,1187.6 C433.9,1207.0 431.0,1282.3 430.2,1300.2 C429.3,1318.2 426.3,1303.6 425.1,1295.2 C424.0,1286.9 425.6,1261.9 423.1,1250.2 C420.6,1238.5 414.6,1228.5 410.1,1225.1 C405.7,1221.8 398.2,1226.4 396.4,1230.2 C394.5,1233.9 401.0,1244.3 398.9,1247.7 C396.8,1251.0 387.0,1256.9 383.8,1250.2 C380.7,1243.5 379.5,1218.1 380.1,1207.6Z" fill="#d5d1ba" />
<path d="M396.4,1230.2 C398.0,1226.4 406.6,1223.5 410.1,1225.1 C413.7,1226.8 417.6,1236.0 417.6,1240.2 C417.6,1244.3 413.1,1248.9 410.1,1250.2 C407.2,1251.4 402.4,1251.0 400.1,1247.7 C397.8,1244.3 394.7,1233.9 396.4,1230.2Z" fill="#e9e6d3" />
<ellipse cx="472.7" cy="1242.7" rx="16.5" ry="16.5" fill="url(#g40)" />
<polygon points="642.5,1175.1 642.5,1100.0 740.1,1100.0 767.6,1100.0 850.2,1100.0 880.2,1100.0 880.2,1295.2 860.2,1304.0 767.6,1326.5 680.0,1329.0 642.5,1329.8" fill="#9d9d9d" />
<polygon points="653.9,942.6 740.2,970.1 740.2,1150.3 722.7,1171.6 662.6,1185.9 653.9,1177.9" fill="#a8a494" />
<polygon points="653.9,1120.3 697.7,1107.8 707.7,1120.3 707.7,1140.3 667.6,1152.8 653.9,1145.3" fill="#eadfcc" />
<polygon points="653.9,945.1 705.2,962.6 737.7,972.6 737.7,1095.3 690.2,1077.7 653.9,1055.2" fill="url(#g41)" />
<polygon points="653.9,945.1 670.1,951.3 670.1,1062.7 653.9,1055.2" fill="#7e171b" />
<polygon points="653.9,1057.7 682.7,1077.7 697.7,1107.8 653.9,1120.3" fill="#e8601f" />
<polygon points="653.9,1145.3 667.6,1152.8 735.2,1139.1 735.2,1155.3 720.2,1170.4 662.6,1185.4 653.9,1177.9" fill="#0f5037" />
<polyline points="653.9,1179.9 662.6,1187.4 722.7,1173.4 741.5,1151.6 741.5,1141.6" fill="none" stroke="#e3ded0" stroke-width="2.00" />
<polygon points="767.6,1100.0 850.2,1100.0 850.2,1137.5 830.2,1152.6 780.1,1145.1 767.6,1125.0" fill="#e8e0c8" />
<polygon points="775.1,1100.0 842.7,1100.0 842.7,1127.5 780.1,1117.5" fill="#5b5e60" />
<polygon points="737.7,965.1 886.7,965.1 886.7,1122.8 737.7,1122.8" fill="#8d9092" />
<polygon points="740.2,945.1 840.3,920.1 840.3,970.1 740.2,970.1" fill="#aeb1b0" />
<polygon points="737.7,975.1 775.3,965.1 832.8,987.6 840.3,1030.2 840.3,1120.3 775.3,1120.3 775.3,1095.3 740.2,1090.3" fill="#5f6263" />
<polygon points="775.3,1020.2 832.8,1010.2 840.3,1030.2 840.3,1120.3 775.3,1120.3" fill="#54575a" />
<polygon points="740.2,1045.2 775.3,1030.2 775.3,1095.3 740.2,1090.3" fill="#474a4c" />
<polygon points="837.8,870.0 880.4,870.0 880.4,1045.2 840.3,1045.2 840.3,1030.2 832.8,987.6 837.8,945.1" fill="#82888b" />
<polygon points="830.3,890.0 837.8,890.0 837.8,1000.2 830.3,1000.2" fill="#d79a2b" />
<polygon points="880.4,870.0 886.7,870.0 886.7,1047.7 880.4,1045.2" fill="#d79a2b" />
<polygon points="845.4,1045.2 880.4,1045.2 880.4,1075.2 845.4,1070.2" fill="#8b8f90" />
<polygon points="847.9,1062.7 880.4,1060.2 880.4,1070.2 847.9,1072.7" fill="#d79a2b" />
<path d="M474.3,970.7 C474.3,983.4 473.1,1023.1 474.3,1047.0 C475.4,1070.8 476.2,1095.5 481.4,1113.7 C486.6,1132.0 495.7,1147.1 505.2,1156.6 C514.8,1166.2 527.5,1171.7 538.6,1170.9 C549.7,1170.1 563.2,1163.0 572.0,1151.9 C580.7,1140.7 585.5,1117.7 591.1,1104.2 C596.6,1090.7 603.0,1076.4 605.4,1070.8" fill="none" stroke="#4d4540" stroke-width="5.2" stroke-linecap="round"/>
<path d="M474.3,970.7 C474.3,983.4 473.1,1023.1 474.3,1047.0 C475.4,1070.8 476.2,1095.5 481.4,1113.7 C486.6,1132.0 495.7,1147.1 505.2,1156.6 C514.8,1166.2 527.5,1171.7 538.6,1170.9 C549.7,1170.1 563.2,1163.0 572.0,1151.9 C580.7,1140.7 585.5,1117.7 591.1,1104.2 C596.6,1090.7 603.0,1076.4 605.4,1070.8" fill="none" stroke="#b3aaa0" stroke-width="1.8" stroke-linecap="round"/>
<path d="M476.6,1142.3 C477.4,1153.5 476.6,1191.6 481.4,1209.1 C486.2,1226.6 494.1,1239.3 505.2,1247.2 C516.4,1255.2 533.1,1256.0 548.2,1256.8 C563.2,1257.6 583.9,1257.6 595.8,1252.0 C607.7,1246.4 614.9,1238.5 619.7,1223.4 C624.4,1208.3 623.6,1183.7 624.4,1161.4 C625.2,1139.2 624.4,1101.8 624.4,1089.9" fill="none" stroke="#4d4540" stroke-width="5.2" stroke-linecap="round"/>
<path d="M476.6,1142.3 C477.4,1153.5 476.6,1191.6 481.4,1209.1 C486.2,1226.6 494.1,1239.3 505.2,1247.2 C516.4,1255.2 533.1,1256.0 548.2,1256.8 C563.2,1257.6 583.9,1257.6 595.8,1252.0 C607.7,1246.4 614.9,1238.5 619.7,1223.4 C624.4,1208.3 623.6,1183.7 624.4,1161.4 C625.2,1139.2 624.4,1101.8 624.4,1089.9" fill="none" stroke="#b3aaa0" stroke-width="1.8" stroke-linecap="round"/>
<path d="M526.7,1013.6 C531.9,1017.6 545.4,1029.5 557.7,1037.4 C570.0,1045.4 593.4,1057.3 600.6,1061.3" fill="none" stroke="#4d4540" stroke-width="5.2" stroke-linecap="round"/>
<path d="M526.7,1013.6 C531.9,1017.6 545.4,1029.5 557.7,1037.4 C570.0,1045.4 593.4,1057.3 600.6,1061.3" fill="none" stroke="#b3aaa0" stroke-width="1.8" stroke-linecap="round"/>
<path d="M526.7,1020.8 C531.9,1025.1 546.2,1039.4 557.7,1047.0 C569.2,1054.5 589.5,1062.9 595.8,1066.1" fill="none" stroke="#4d4540" stroke-width="5.2" stroke-linecap="round"/>
<path d="M526.7,1020.8 C531.9,1025.1 546.2,1039.4 557.7,1047.0 C569.2,1054.5 589.5,1062.9 595.8,1066.1" fill="none" stroke="#b3aaa0" stroke-width="1.8" stroke-linecap="round"/>
<polygon points="470.9,968.3 479.0,968.3 479.0,1004.1 470.9,1004.1" fill="#c9c45a" />
<polygon points="471.9,1130.4 480.0,1130.4 480.0,1166.2 471.9,1166.2" fill="#c9c45a" />
<polygon points="595.8,1054.1 643.5,1066.1 641.1,1085.1 629.2,1085.1 626.8,1113.7 617.3,1113.7 617.3,1080.4 595.8,1070.8" fill="#cfca7a" />
<g clip-path="url(#pclip)">
<path d="M1265.5,900.2 C1263.7,888.2 1268.0,887.1 1271.9,879.0 C1275.8,870.9 1281.8,859.5 1288.9,851.4 C1296.0,843.2 1303.0,836.5 1314.4,830.1 C1325.7,823.8 1340.9,819.5 1356.9,813.1 C1372.8,806.8 1395.8,797.4 1410.0,791.9 C1424.2,786.4 1433.0,782.5 1441.9,780.2 C1450.7,777.9 1454.3,777.5 1463.1,778.1 C1472.0,778.6 1484.4,780.0 1495.0,783.4 C1505.6,786.7 1515.5,791.5 1526.9,798.2 C1538.2,805.0 1550.6,808.9 1563.0,823.8 C1575.4,838.6 1593.1,859.2 1601.2,887.5 C1609.4,915.8 1611.9,958.3 1611.9,993.8 C1611.9,1029.2 1609.4,1074.9 1601.2,1100.0 C1593.1,1125.1 1577.2,1134.0 1563.0,1144.6 C1548.8,1155.2 1531.1,1158.1 1516.2,1163.8 C1501.4,1169.4 1487.9,1175.1 1473.8,1178.6 C1459.6,1182.2 1443.6,1184.8 1431.2,1185.0 C1418.9,1185.2 1409.3,1183.2 1399.4,1179.7 C1389.5,1176.1 1380.6,1170.3 1371.8,1163.8 C1362.9,1157.2 1354.0,1149.2 1346.2,1140.4 C1338.5,1131.5 1331.0,1120.9 1325.0,1110.6 C1319.0,1100.4 1313.7,1094.7 1310.1,1078.8 C1306.6,1062.8 1308.4,1036.2 1303.8,1015.0 C1299.1,993.8 1288.9,970.4 1282.5,951.2 C1276.1,932.1 1267.3,912.3 1265.5,900.2Z" fill="#0d4a34" />
<path d="M1405.8,821.6 C1400.1,813.1 1405.2,797.4 1410.0,791.9 C1414.8,786.4 1434.8,782.0 1441.9,780.2 C1449.0,778.3 1456.0,777.6 1463.1,778.1 C1470.2,778.5 1486.5,780.7 1495.0,783.4 C1503.5,786.1 1517.8,792.9 1526.9,798.2 C1535.9,803.6 1553.1,811.9 1563.0,823.8 C1572.9,835.6 1594.7,864.8 1601.2,887.5 C1607.8,910.2 1611.9,965.4 1611.9,993.8 C1611.9,1022.1 1607.8,1079.9 1601.2,1100.0 C1594.7,1120.1 1574.3,1136.1 1563.0,1144.6 C1551.7,1153.1 1528.2,1159.2 1516.2,1163.8 C1504.3,1168.3 1483.7,1176.2 1473.8,1178.6 C1463.8,1181.0 1440.5,1184.9 1441.9,1181.8 C1443.3,1178.7 1475.0,1163.3 1484.4,1155.2 C1493.7,1147.2 1506.6,1131.5 1512.0,1121.2 C1517.4,1111.0 1523.0,1091.5 1524.8,1078.8 C1526.5,1066.0 1526.5,1041.2 1524.8,1025.6 C1523.0,1010.0 1517.4,978.9 1512.0,961.9 C1506.6,944.9 1492.3,912.3 1484.4,898.1 C1476.4,884.0 1463.0,865.8 1452.5,855.6 C1442.0,845.4 1411.4,830.1 1405.8,821.6Z" fill="url(#g42)" />
<path d="M1412.6,819.5 C1420.4,825.1 1446.3,840.7 1459.4,853.5 C1472.5,866.2 1481.3,878.2 1491.2,896.0 C1501.2,913.7 1512.1,938.5 1518.9,959.7 C1525.6,981.0 1529.5,1004.0 1531.6,1023.5 C1533.7,1042.9 1533.7,1060.6 1531.6,1076.6 C1529.5,1092.5 1525.6,1106.3 1518.9,1119.1 C1512.1,1131.8 1502.9,1143.0 1491.2,1153.1 C1479.6,1163.2 1455.8,1175.2 1448.7,1179.6" fill="none" stroke="#0b3f2d" stroke-width="1.5"/>
<path d="M1414.5,818.8 C1422.3,824.5 1448.2,840.1 1461.3,852.8 C1474.4,865.6 1483.2,877.6 1493.2,895.3 C1503.1,913.0 1514.0,937.8 1520.8,959.1 C1527.5,980.3 1531.4,1003.3 1533.5,1022.8 C1535.7,1042.3 1535.7,1060.0 1533.5,1075.9 C1531.4,1091.9 1527.5,1105.7 1520.8,1118.4 C1514.0,1131.2 1504.8,1142.4 1493.2,1152.4 C1481.5,1162.5 1457.7,1174.6 1450.7,1179.0" fill="none" stroke="#2b7d5f" stroke-width="1.1"/>
<path d="M1419.5,817.3 C1427.3,823.0 1453.1,838.5 1466.2,851.3 C1479.3,864.0 1488.2,876.1 1498.1,893.8 C1508.0,911.5 1519.0,936.3 1525.7,957.5 C1532.5,978.8 1536.4,1001.8 1538.5,1021.3 C1540.6,1040.8 1540.6,1058.5 1538.5,1074.4 C1536.4,1090.4 1532.5,1104.2 1525.7,1116.9 C1519.0,1129.7 1509.8,1140.8 1498.1,1150.9 C1486.4,1161.0 1462.7,1173.1 1455.6,1177.5" fill="none" stroke="#0b3f2d" stroke-width="1.5"/>
<path d="M1421.4,816.7 C1429.2,822.3 1455.0,837.9 1468.1,850.7 C1481.2,863.4 1490.1,875.4 1500.0,893.2 C1509.9,910.9 1520.9,935.7 1527.6,956.9 C1534.4,978.2 1538.3,1001.2 1540.4,1020.7 C1542.5,1040.1 1542.5,1057.8 1540.4,1073.8 C1538.3,1089.7 1534.4,1103.5 1527.6,1116.3 C1520.9,1129.0 1511.7,1140.2 1500.0,1150.3 C1488.3,1160.4 1464.6,1172.4 1457.5,1176.8" fill="none" stroke="#2b7d5f" stroke-width="1.1"/>
<path d="M1426.3,815.1 C1434.1,820.8 1460.0,836.4 1473.1,849.1 C1486.2,861.9 1495.0,873.9 1505.0,891.6 C1514.9,909.3 1525.9,934.1 1532.6,955.4 C1539.3,976.6 1543.2,999.6 1545.3,1019.1 C1547.5,1038.6 1547.5,1056.3 1545.3,1072.2 C1543.2,1088.2 1539.3,1102.0 1532.6,1114.7 C1525.9,1127.5 1516.7,1138.7 1505.0,1148.7 C1493.3,1158.8 1469.5,1170.9 1462.5,1175.3" fill="none" stroke="#0b3f2d" stroke-width="1.5"/>
<path d="M1428.3,814.5 C1436.0,820.2 1461.9,835.7 1475.0,848.5 C1488.1,861.2 1497.0,873.3 1506.9,891.0 C1516.8,908.7 1527.8,933.5 1534.5,954.7 C1541.2,976.0 1545.1,999.0 1547.3,1018.5 C1549.4,1038.0 1549.4,1055.7 1547.3,1071.6 C1545.1,1087.5 1541.2,1101.4 1534.5,1114.1 C1527.8,1126.9 1518.6,1138.0 1506.9,1148.1 C1495.2,1158.2 1471.5,1170.2 1464.4,1174.7" fill="none" stroke="#2b7d5f" stroke-width="1.1"/>
<path d="M1433.2,813.0 C1441.0,818.6 1466.9,834.2 1480.0,847.0 C1493.1,859.7 1501.9,871.7 1511.8,889.5 C1521.7,907.2 1532.7,932.0 1539.5,953.2 C1546.2,974.5 1550.1,997.5 1552.2,1017.0 C1554.3,1036.4 1554.3,1054.1 1552.2,1070.1 C1550.1,1086.0 1546.2,1099.8 1539.5,1112.6 C1532.7,1125.3 1523.5,1136.5 1511.8,1146.6 C1500.1,1156.7 1476.4,1168.7 1469.3,1173.1" fill="none" stroke="#0b3f2d" stroke-width="1.5"/>
<path d="M1435.1,812.3 C1442.9,818.0 1468.8,833.6 1481.9,846.3 C1495.0,859.1 1503.8,871.1 1513.7,888.8 C1523.7,906.5 1534.6,931.3 1541.4,952.6 C1548.1,973.8 1552.0,996.8 1554.1,1016.3 C1556.2,1035.8 1556.2,1053.5 1554.1,1069.4 C1552.0,1085.4 1548.1,1099.2 1541.4,1111.9 C1534.6,1124.7 1525.4,1135.8 1513.7,1145.9 C1502.1,1156.0 1478.3,1168.1 1471.2,1172.5" fill="none" stroke="#2b7d5f" stroke-width="1.1"/>
<path d="M1440.1,810.8 C1447.9,816.5 1473.7,832.0 1486.8,844.8 C1499.9,857.5 1508.8,869.6 1518.7,887.3 C1528.6,905.0 1539.6,929.8 1546.3,951.0 C1553.0,972.3 1556.9,995.3 1559.1,1014.8 C1561.2,1034.3 1561.2,1052.0 1559.1,1067.9 C1556.9,1083.8 1553.0,1097.7 1546.3,1110.4 C1539.6,1123.2 1530.4,1134.3 1518.7,1144.4 C1507.0,1154.5 1483.3,1166.5 1476.2,1171.0" fill="none" stroke="#0b3f2d" stroke-width="1.5"/>
<path d="M1442.0,810.1 C1449.8,815.8 1475.6,831.4 1488.7,844.1 C1501.8,856.9 1510.7,868.9 1520.6,886.6 C1530.5,904.4 1541.5,929.1 1548.2,950.4 C1555.0,971.6 1558.9,994.7 1561.0,1014.1 C1563.1,1033.6 1563.1,1051.3 1561.0,1067.3 C1558.9,1083.2 1555.0,1097.0 1548.2,1109.8 C1541.5,1122.5 1532.3,1133.7 1520.6,1143.8 C1508.9,1153.9 1485.2,1165.9 1478.1,1170.3" fill="none" stroke="#2b7d5f" stroke-width="1.1"/>
<path d="M1446.9,808.6 C1454.7,814.3 1480.6,829.9 1493.7,842.6 C1506.8,855.4 1515.6,867.4 1525.6,885.1 C1535.5,902.8 1546.5,927.6 1553.2,948.9 C1559.9,970.1 1563.8,993.1 1565.9,1012.6 C1568.1,1032.1 1568.1,1049.8 1565.9,1065.7 C1563.8,1081.7 1559.9,1095.5 1553.2,1108.2 C1546.5,1121.0 1537.2,1132.2 1525.6,1142.2 C1513.9,1152.3 1490.1,1164.4 1483.1,1168.8" fill="none" stroke="#0b3f2d" stroke-width="1.5"/>
<path d="M1448.8,808.0 C1456.6,813.6 1482.5,829.2 1495.6,842.0 C1508.7,854.7 1517.6,866.8 1527.5,884.5 C1537.4,902.2 1548.4,927.0 1555.1,948.2 C1561.8,969.5 1565.7,992.5 1567.8,1012.0 C1570.0,1031.5 1570.0,1049.2 1567.8,1065.1 C1565.7,1081.0 1561.8,1094.9 1555.1,1107.6 C1548.4,1120.4 1539.2,1131.5 1527.5,1141.6 C1515.8,1151.7 1492.1,1163.7 1485.0,1168.2" fill="none" stroke="#2b7d5f" stroke-width="1.1"/>
<path d="M1453.8,806.5 C1461.6,812.1 1487.4,827.7 1500.5,840.5 C1513.7,853.2 1522.5,865.2 1532.4,883.0 C1542.3,900.7 1553.3,925.5 1560.0,946.7 C1566.8,968.0 1570.7,991.0 1572.8,1010.5 C1574.9,1029.9 1574.9,1047.6 1572.8,1063.6 C1570.7,1079.5 1566.8,1093.3 1560.0,1106.1 C1553.3,1118.8 1544.1,1130.0 1532.4,1140.1 C1520.7,1150.2 1497.0,1162.2 1489.9,1166.6" fill="none" stroke="#0b3f2d" stroke-width="1.5"/>
<path d="M1455.7,805.8 C1463.5,811.5 1489.4,827.1 1502.5,839.8 C1515.6,852.6 1524.4,864.6 1534.3,882.3 C1544.3,900.0 1555.2,924.8 1562.0,946.1 C1568.7,967.3 1572.6,990.3 1574.7,1009.8 C1576.8,1029.3 1576.8,1047.0 1574.7,1062.9 C1572.6,1078.9 1568.7,1092.7 1562.0,1105.4 C1555.2,1118.2 1546.0,1129.3 1534.3,1139.4 C1522.6,1149.5 1498.9,1161.6 1491.8,1166.0" fill="none" stroke="#2b7d5f" stroke-width="1.1"/>
<path d="M1460.7,804.3 C1468.5,810.0 1494.3,825.5 1507.4,838.3 C1520.5,851.0 1529.4,863.1 1539.3,880.8 C1549.2,898.5 1560.2,923.3 1566.9,944.5 C1573.6,965.8 1577.5,988.8 1579.7,1008.3 C1581.8,1027.8 1581.8,1045.5 1579.7,1061.4 C1577.5,1077.3 1573.6,1091.2 1566.9,1103.9 C1560.2,1116.7 1551.0,1127.8 1539.3,1137.9 C1527.6,1148.0 1503.9,1160.0 1496.8,1164.5" fill="none" stroke="#0b3f2d" stroke-width="1.5"/>
<path d="M1462.6,803.6 C1470.4,809.3 1496.2,824.9 1509.3,837.6 C1522.4,850.4 1531.3,862.4 1541.2,880.1 C1551.1,897.9 1562.1,922.6 1568.8,943.9 C1575.6,965.1 1579.4,988.2 1581.6,1007.6 C1583.7,1027.1 1583.7,1044.8 1581.6,1060.8 C1579.4,1076.7 1575.6,1090.5 1568.8,1103.3 C1562.1,1116.0 1552.9,1127.2 1541.2,1137.3 C1529.5,1147.4 1505.8,1159.4 1498.7,1163.8" fill="none" stroke="#2b7d5f" stroke-width="1.1"/>
<path d="M1467.5,802.1 C1475.3,807.8 1501.2,823.4 1514.3,836.1 C1527.4,848.9 1536.2,860.9 1546.1,878.6 C1556.1,896.3 1567.0,921.1 1573.8,942.4 C1580.5,963.6 1584.4,986.6 1586.5,1006.1 C1588.6,1025.6 1588.6,1043.3 1586.5,1059.2 C1584.4,1075.2 1580.5,1089.0 1573.8,1101.7 C1567.0,1114.5 1557.8,1125.6 1546.1,1135.7 C1534.5,1145.8 1510.7,1157.9 1503.6,1162.3" fill="none" stroke="#0b3f2d" stroke-width="1.5"/>
<path d="M1469.4,801.5 C1477.2,807.1 1503.1,822.7 1516.2,835.5 C1529.3,848.2 1538.1,860.3 1548.1,878.0 C1558.0,895.7 1569.0,920.5 1575.7,941.7 C1582.4,963.0 1586.3,986.0 1588.4,1005.5 C1590.6,1025.0 1590.6,1042.7 1588.4,1058.6 C1586.3,1074.5 1582.4,1088.4 1575.7,1101.1 C1569.0,1113.9 1559.7,1125.0 1548.1,1135.1 C1536.4,1145.2 1512.6,1157.2 1505.6,1161.7" fill="none" stroke="#2b7d5f" stroke-width="1.1"/>
<path d="M1474.4,800.0 C1482.2,805.6 1508.0,821.2 1521.1,834.0 C1534.2,846.7 1543.1,858.7 1553.0,876.5 C1562.9,894.2 1573.9,919.0 1580.6,940.2 C1587.4,961.5 1591.3,984.5 1593.4,1004.0 C1595.5,1023.4 1595.5,1041.1 1593.4,1057.1 C1591.3,1073.0 1587.4,1086.8 1580.6,1099.6 C1573.9,1112.3 1564.7,1123.5 1553.0,1133.6 C1541.3,1143.7 1517.6,1155.7 1510.5,1160.1" fill="none" stroke="#0b3f2d" stroke-width="1.5"/>
<path d="M1476.3,799.3 C1484.1,805.0 1509.9,820.6 1523.0,833.3 C1536.2,846.1 1545.0,858.1 1554.9,875.8 C1564.8,893.5 1575.8,918.3 1582.5,939.6 C1589.3,960.8 1593.2,983.8 1595.3,1003.3 C1597.4,1022.8 1597.4,1040.5 1595.3,1056.4 C1593.2,1072.4 1589.3,1086.2 1582.5,1098.9 C1575.8,1111.7 1566.6,1122.8 1554.9,1132.9 C1543.2,1143.0 1519.5,1155.1 1512.4,1159.5" fill="none" stroke="#2b7d5f" stroke-width="1.1"/>
<path d="M1318.6,828.0 C1331.7,822.0 1353.0,816.7 1367.5,815.7 C1382.0,814.6 1391.6,815.0 1405.8,821.6 C1419.9,828.3 1439.4,842.9 1452.5,855.6 C1465.6,868.4 1474.5,880.4 1484.4,898.1 C1494.3,915.8 1505.3,940.6 1512.0,961.9 C1518.7,983.1 1522.6,1006.1 1524.8,1025.6 C1526.9,1045.1 1526.9,1062.8 1524.8,1078.8 C1522.6,1094.7 1518.7,1108.5 1512.0,1121.2 C1505.3,1134.0 1496.1,1145.2 1484.4,1155.2 C1472.7,1165.3 1456.0,1177.7 1441.9,1181.8 C1427.7,1185.9 1411.1,1182.7 1399.4,1179.7 C1387.7,1176.7 1380.6,1170.3 1371.8,1163.8 C1362.9,1157.2 1354.0,1149.2 1346.2,1140.4 C1338.5,1131.5 1331.0,1120.9 1325.0,1110.6 C1319.0,1100.4 1313.7,1094.7 1310.1,1078.8 C1306.6,1062.8 1308.4,1036.2 1303.8,1015.0 C1299.1,993.8 1288.9,970.4 1282.5,951.2 C1276.1,932.1 1267.3,912.3 1265.5,900.2 C1263.7,888.2 1268.0,887.1 1271.9,879.0 C1275.8,870.9 1281.1,859.9 1288.9,851.4 C1296.7,842.9 1305.5,834.0 1318.6,828.0Z" fill="#0f5139" />
<path d="M1288.9,908.8 C1287.8,891.8 1296.7,881.1 1303.8,870.5 C1310.8,859.9 1320.0,851.7 1331.4,845.0 C1342.7,838.3 1360.1,832.2 1371.8,830.1 C1383.4,828.0 1390.2,828.4 1401.5,832.2 C1412.8,836.1 1428.8,842.9 1439.8,853.5 C1450.7,864.1 1458.9,879.7 1467.4,896.0 C1475.9,912.3 1484.0,931.4 1490.8,951.2 C1497.5,971.1 1504.6,995.5 1507.8,1015.0 C1510.9,1034.5 1511.3,1052.2 1509.9,1068.1 C1508.5,1084.1 1504.9,1098.2 1499.2,1110.6 C1493.6,1123.0 1485.4,1133.6 1475.9,1142.5 C1466.3,1151.4 1452.9,1160.2 1441.9,1163.8 C1430.9,1167.3 1420.6,1167.3 1410.0,1163.8 C1399.4,1160.2 1388.0,1151.4 1378.1,1142.5 C1368.2,1133.6 1358.3,1122.0 1350.5,1110.6 C1342.7,1099.3 1336.0,1086.9 1331.4,1074.5 C1326.8,1062.1 1326.4,1053.2 1322.9,1036.2 C1319.3,1019.2 1315.8,993.8 1310.1,972.5 C1304.5,951.2 1289.9,925.8 1288.9,908.8Z" fill="#0a3a29" />
<path d="M1310.1,908.8 C1312.6,903.1 1319.0,884.0 1325.0,874.8 C1331.0,865.5 1338.5,858.8 1346.2,853.5 C1354.0,848.2 1367.5,844.6 1371.8,842.9" fill="none" stroke="#2f8163" stroke-width="3.2"/>
<path d="M1319.7,914.5 C1322.2,908.8 1328.5,889.7 1334.6,880.5 C1340.6,871.3 1348.0,864.5 1355.8,859.2 C1363.6,853.9 1377.1,850.4 1381.3,848.6" fill="none" stroke="#1c6a4e" stroke-width="2.5"/>
<path d="M1301.6,903.6 C1304.1,898.0 1310.5,878.9 1316.5,869.6 C1322.5,860.4 1330.0,853.7 1337.8,848.4 C1345.5,843.1 1359.0,839.5 1363.2,837.8" fill="none" stroke="#1a6147" stroke-width="2.2"/>
<path d="M1339.9,1068.1 C1342.4,1073.1 1348.7,1089.0 1354.8,1097.9 C1360.8,1106.7 1368.2,1114.9 1376.0,1121.2 C1383.8,1127.6 1397.2,1133.6 1401.5,1136.1" fill="none" stroke="#c4e6d8" stroke-width="3.5"/>
<path d="M1352.6,1064.9 C1355.1,1069.9 1361.5,1085.8 1367.5,1094.7 C1373.5,1103.5 1381.0,1111.7 1388.8,1118.1 C1396.5,1124.4 1410.0,1130.5 1414.2,1132.9" fill="none" stroke="#2f8163" stroke-width="3.0"/>
<path d="M1365.4,1061.8 C1367.9,1066.7 1374.2,1082.6 1380.2,1091.5 C1386.3,1100.4 1393.7,1108.5 1401.5,1114.9 C1409.3,1121.2 1422.8,1127.3 1427.0,1129.8" fill="none" stroke="#5fb596" stroke-width="2.5"/>
<path d="M1376.0,859.9 C1378.5,844.3 1385.6,841.1 1393.0,836.5 C1400.4,831.9 1411.4,828.7 1420.6,832.2 C1429.8,835.8 1439.4,846.8 1448.2,857.8 C1457.1,868.7 1466.0,882.5 1473.8,898.1 C1481.5,913.7 1488.6,931.8 1495.0,951.2 C1501.4,970.7 1508.8,995.5 1512.0,1015.0 C1515.2,1034.5 1515.5,1052.2 1514.1,1068.1 C1512.7,1084.1 1509.2,1098.2 1503.5,1110.6 C1497.8,1123.0 1490.4,1133.6 1480.1,1142.5 C1469.9,1151.4 1453.6,1160.9 1441.9,1163.8 C1430.2,1166.6 1418.9,1163.8 1410.0,1159.5 C1401.1,1155.2 1394.4,1148.2 1388.8,1138.2 C1383.1,1128.3 1376.0,1113.5 1376.0,1100.0 C1376.0,1086.5 1388.4,1085.8 1388.8,1057.5 C1389.1,1029.2 1380.2,962.9 1378.1,930.0 C1376.0,897.1 1373.5,875.5 1376.0,859.9Z" fill="url(#g43)" />
<path d="M1376.0,862.0 C1379.0,856.0 1389.0,840.0 1393.0,836.5 C1397.0,833.0 1406.5,831.3 1410.0,832.2 C1413.5,833.2 1421.6,837.1 1423.2,845.0 C1424.7,852.9 1428.4,890.8 1423.2,900.2 C1417.9,909.7 1384.4,925.2 1378.1,926.2 C1371.9,927.2 1370.9,913.3 1369.6,908.8 C1368.4,904.2 1366.8,893.0 1367.5,887.5 C1368.2,882.0 1373.0,868.0 1376.0,862.0Z" fill="#ffffff" />
<path d="M1471.6,1061.8 C1477.7,1056.1 1516.4,1030.8 1522.6,1030.3 C1528.8,1029.8 1525.7,1050.4 1524.8,1057.5 C1523.8,1064.6 1517.1,1084.1 1514.1,1091.5 C1511.2,1098.9 1502.0,1116.7 1499.2,1121.2 C1496.5,1125.8 1494.2,1130.2 1490.8,1130.2 C1487.3,1130.2 1472.3,1127.2 1469.9,1121.2 C1467.6,1115.3 1470.4,1085.7 1470.6,1078.8 C1470.8,1071.8 1465.6,1067.4 1471.6,1061.8Z" fill="#ffffff" />
<polygon points="1468.4,887.1 1484.8,907.0 1471.6,907.0 1467.4,896.0" fill="#ffffff" />
<path d="M1414.2,1066.0 C1416.0,1066.0 1423.8,1075.1 1425.3,1078.8 C1426.8,1082.4 1424.9,1087.7 1423.2,1087.7 C1421.4,1087.7 1416.2,1082.4 1414.7,1078.8 C1413.2,1075.1 1412.5,1066.0 1414.2,1066.0Z" fill="#eef3f1" />
<polygon points="1423.2,845.0 1468.4,887.1 1468.4,930.0 1423.2,930.0" fill="#12553c" />
<polygon points="1439.8,859.9 1452.5,870.5 1452.5,930.0 1439.8,930.0" fill="#1f7757" />
<polygon points="1442.9,862.0 1447.2,866.2 1447.2,930.0 1442.9,930.0" fill="#8fcfb6" />
<polygon points="1437.6,1057.5 1471.6,1061.8 1470.6,1121.2 1452.5,1142.5 1437.6,1142.5" fill="#12553c" />
<polygon points="1450.4,1061.8 1461.0,1062.8 1463.1,1134.0 1452.5,1138.2" fill="#1f7757" />
<polygon points="1453.6,1063.9 1457.2,1064.3 1459.3,1129.8 1455.0,1130.8" fill="#9ad6be" />
<polygon points="1484.4,908.8 1522.6,1029.9 1490.8,1036.2 1478.0,951.2" fill="#0f4e37" />
<polygon points="1488.6,940.6 1516.2,1006.5 1512.0,1012.9 1484.4,951.2" fill="#1d7455" />
<ellipse cx="1444.0" cy="989.5" rx="63.8" ry="76.9" fill="url(#g44)" transform="rotate(-10.0 1444.0 989.5)" />
<ellipse cx="1431.2" cy="991.6" rx="53.1" ry="69.1" fill="#0e4a35" transform="rotate(-10.0 1431.2 991.6)" />
<ellipse cx="1416.4" cy="991.6" rx="41.4" ry="62.0" fill="#8b8c8a" transform="rotate(-10.0 1416.4 991.6)" />
<ellipse cx="1410.0" cy="992.7" rx="34.0" ry="54.2" fill="#e9eaeb" transform="rotate(-10.0 1410.0 992.7)" />
<ellipse cx="1424.9" cy="994.8" rx="15.9" ry="40.4" fill="#a4a6a8" transform="rotate(-10.0 1424.9 994.8)" />
<polygon points="1350.5,952.3 1401.5,951.2 1410.0,1036.2 1359.0,1042.6" fill="url(#g45)" />
<ellipse cx="1405.8" cy="993.8" rx="12.8" ry="42.5" fill="#f3f4f4" transform="rotate(-10.0 1405.8 993.8)" />
</g>
<polygon points="1240.3,907.5 1277.9,900.0 1307.9,902.5 1307.9,920.1 1277.9,923.8 1276.6,945.1 1245.3,952.6 1239.1,945.1" fill="#cfc7b3" />
<polygon points="1239.1,930.1 1276.6,945.1 1276.6,980.1 1232.8,995.1 1227.8,990.1 1239.1,945.1" fill="#a9a69b" />
<ellipse cx="1182.8" cy="975.1" rx="42.6" ry="33.8" fill="#f0efe9" transform="rotate(-25.0 1182.8 975.1)" />
<ellipse cx="1185.3" cy="977.6" rx="37.5" ry="29.5" fill="#c4c2b8" transform="rotate(-25.0 1185.3 977.6)" />
<ellipse cx="1257.8" cy="975.1" rx="37.5" ry="27.5" fill="#d6cfbc" transform="rotate(-25.0 1257.8 975.1)" />
<ellipse cx="1260.3" cy="980.1" rx="27.5" ry="20.0" fill="#b3ab97" transform="rotate(-25.0 1260.3 980.1)" />
<polygon points="1307.9,927.6 1340.4,932.6 1350.5,952.6 1342.9,970.1 1307.9,973.9" fill="#c9c0ab" />
<polygon points="1276.6,923.8 1307.9,920.1 1307.9,973.9 1276.6,980.1" fill="#5c5e5e" />
<polygon points="1280.4,920.1 1305.4,907.5 1310.4,915.1 1285.4,927.6" fill="#4a4c4c" />
<polygon points="1340.4,932.6 1350.5,927.6 1353.0,952.6 1342.9,970.1" fill="#5c5e5e" />
<polygon points="1353.0,912.6 1370.5,905.0 1375.5,917.6 1365.5,935.1 1356.7,932.6" fill="#b8b04f" />
<polygon points="1120.2,1030.2 1345.4,980.1 1360.5,1065.2 1145.2,1117.8" fill="#5f6162" />
<polygon points="1105.2,965.1 1145.2,965.1 1240.3,932.6 1240.3,952.6 1145.2,987.6 1130.2,1000.2 1105.2,1000.2" fill="#9c9e9f" />
<polygon points="1120.2,1030.2 1130.2,1035.7 1277.9,1003.2 1345.4,980.6 1342.9,970.1 1307.9,973.9 1276.6,980.1 1232.8,995.1 1130.2,1025.2 1110.2,1005.2 1105.2,1010.2" fill="#5c5e5e" />
<path d="M1125.2,992.6 C1127.5,988.1 1135.2,1000.8 1145.2,996.4 C1155.2,992.0 1172.7,972.3 1185.3,966.4 C1197.8,960.4 1212.4,960.6 1220.3,960.6 C1228.2,960.6 1231.6,961.4 1232.8,966.4 C1234.1,971.3 1234.1,981.8 1227.8,990.1 C1221.5,998.5 1209.0,1009.7 1195.3,1016.4 C1181.5,1023.1 1155.8,1028.9 1145.2,1030.2 C1134.6,1031.4 1134.8,1030.2 1131.4,1023.9 C1128.1,1017.7 1122.9,997.2 1125.2,992.6Z" fill="url(#g46)" />
<polygon points="1190.3,970.1 1217.8,965.1 1210.3,987.6 1195.3,990.1" fill="#2a8a68" />
<polygon points="1145.2,1115.3 1195.3,1095.3 1297.9,1067.7 1355.5,1060.2 1360.5,1070.2 1370.5,1075.2 1142.7,1145.3" fill="#b5aa96" />
<polygon points="1142.7,1144.1 1370.5,1074.0 1370.5,1085.8 1145.2,1158.3" fill="#ead9bd" />
<polygon points="1130.2,1161.6 1145.2,1158.3 1306.7,1106.5 1306.7,1122.8 1132.7,1181.6" fill="#6b6b69" />
<polygon points="1132.7,1181.6 1306.7,1122.8 1306.7,1135.3 1195.3,1170.4 1145.2,1192.9" fill="#a7a59c" />
<polygon points="1200.3,1152.8 1255.3,1135.3 1260.3,1147.8 1210.3,1165.4" fill="#efe8d2" />
<path d="M1125.2,1056.5 C1130.1,1047.4 1159.4,1042.6 1170.2,1040.7 C1181.1,1038.8 1185.6,1040.3 1190.3,1045.2 C1194.9,1050.1 1197.4,1061.9 1198.3,1070.2 C1199.1,1078.6 1203.3,1088.1 1195.3,1095.3 C1187.3,1102.4 1159.3,1113.3 1150.2,1113.3 C1141.1,1113.3 1144.9,1104.7 1140.7,1095.3 C1136.5,1085.8 1120.3,1065.6 1125.2,1056.5Z" fill="url(#g47)" />
<polygon points="1190.3,1045.2 1277.9,1010.2 1292.9,1030.2 1297.9,1064.0 1200.3,1091.5 1198.3,1070.2" fill="url(#g48)" />
<path d="M1277.9,1010.7 C1286.8,1002.5 1331.7,985.6 1345.4,981.4 C1359.2,977.2 1356.3,980.8 1360.5,985.6 C1364.6,990.4 1368.8,1000.2 1370.5,1010.2 C1372.1,1020.1 1373.0,1036.8 1370.5,1045.2 C1368.0,1053.6 1367.6,1056.9 1355.5,1060.7 C1343.4,1064.6 1308.5,1073.3 1297.9,1068.2 C1287.3,1063.1 1295.0,1039.8 1291.6,1030.2 C1288.3,1020.6 1268.9,1018.8 1277.9,1010.7Z" fill="url(#g49)" />
<ellipse cx="1370.5" cy="1017.7" rx="17.5" ry="53.8" fill="#d9a240" transform="rotate(-12.0 1370.5 1017.7)" />
<ellipse cx="1366.7" cy="1017.7" rx="11.3" ry="42.6" fill="#c48d30" transform="rotate(-12.0 1366.7 1017.7)" />
<path d="M1032.6,1060.2 C1036.7,1049.4 1045.1,1036.9 1052.6,1030.2 C1060.1,1023.5 1069.7,1021.8 1077.6,1020.2 C1085.6,1018.5 1092.6,1016.8 1100.2,1020.2 C1107.7,1023.5 1115.0,1027.7 1122.7,1040.2 C1130.4,1052.7 1142.5,1079.8 1146.5,1095.3 C1150.4,1110.7 1149.2,1119.0 1146.5,1132.8 C1143.7,1146.7 1136.2,1170.4 1130.2,1178.4 C1124.1,1186.4 1119.3,1182.2 1110.2,1180.9 C1101.0,1179.5 1086.0,1174.2 1075.1,1170.4 C1064.3,1166.5 1052.6,1162.0 1045.1,1157.8 C1037.6,1153.7 1033.0,1155.8 1030.1,1145.3 C1027.2,1134.9 1027.2,1109.5 1027.6,1095.3 C1028.0,1081.1 1028.4,1071.1 1032.6,1060.2Z" fill="#c4cacf" />
<polygon points="1049.5,1082.1 1062.1,1034.2 1072.4,1036.9 1052.1,1083.0" fill="#f2f5f7" />
<polygon points="1054.0,1084.0 1080.0,1039.0 1089.4,1043.7 1056.4,1085.6" fill="#f2f5f7" />
<polygon points="1058.0,1087.1 1102.3,1040.4 1111.4,1047.9 1060.1,1089.4" fill="#f2f5f7" />
<polygon points="1061.4,1091.2 1118.8,1052.9 1126.0,1062.2 1063.0,1094.1" fill="#f2f5f7" />
<polygon points="1064.0,1096.3 1132.5,1068.6 1137.3,1079.4 1065.0,1099.4" fill="#f2f5f7" />
<polygon points="1065.6,1101.9 1142.4,1087.1 1144.5,1099.0 1066.0,1105.3" fill="#f2f5f7" />
<polygon points="1066.1,1107.8 1147.7,1107.8 1146.8,1120.1 1065.9,1111.2" fill="#f2f5f7" />
<polygon points="1065.6,1113.7 1142.4,1128.4 1138.6,1140.0 1064.8,1117.0" fill="#f2f5f7" />
<polygon points="1064.0,1119.3 1132.5,1147.0 1126.2,1157.2 1062.6,1122.3" fill="#f2f5f7" />
<polygon points="1061.4,1124.3 1118.8,1162.7 1110.4,1171.1 1059.6,1126.8" fill="#f2f5f7" />
<polygon points="1058.0,1128.5 1102.3,1175.1 1092.2,1181.4 1055.8,1130.4" fill="#f2f5f7" />
<polygon points="1054.0,1131.6 1083.7,1184.0 1072.6,1188.0 1051.4,1132.8" fill="#f2f5f7" />
<ellipse cx="1047.6" cy="1110.3" rx="20.5" ry="29.5" fill="#c9cdd1" />
<ellipse cx="1047.6" cy="1110.3" rx="16.5" ry="25.0" fill="#ece6e8" />
<polygon points="1032.6,1010.2 1077.6,1000.2 1105.2,1010.2 1105.2,1030.2 1077.6,1020.2 1052.6,1030.2 1032.6,1060.2" fill="#7d8184" />
<path d="M1030.0,1175.1 C1037.5,1162.6 1062.2,1173.4 1075.1,1175.1 C1088.0,1176.8 1098.5,1178.0 1107.6,1185.1 C1116.8,1192.2 1126.4,1204.7 1130.2,1217.6 C1133.9,1230.6 1134.3,1253.4 1130.2,1262.7 C1126.0,1272.0 1118.5,1270.2 1105.1,1273.2 C1091.8,1276.2 1062.6,1284.6 1050.1,1280.7 C1037.5,1276.9 1033.4,1267.8 1030.0,1250.2 C1026.7,1232.6 1022.5,1187.6 1030.0,1175.1Z" fill="#ebe5d2" />
<path d="M1015.0,1260.2 C1015.0,1254.4 1024.2,1249.3 1030.0,1250.2 C1035.9,1251.0 1046.7,1260.1 1050.1,1265.2 C1053.4,1270.3 1053.4,1277.4 1050.1,1280.7 C1046.7,1284.1 1035.9,1288.6 1030.0,1285.2 C1024.2,1281.8 1015.0,1266.0 1015.0,1260.2Z" fill="#b9b2a0" />
<polygon points="1110.1,1182.6 1125.1,1182.6 1130.2,1217.6 1130.2,1262.7 1117.6,1265.2" fill="#b9bcc0" />
<polygon points="1130.2,1217.6 1295.4,1162.6 1312.9,1180.1 1322.9,1212.6 1140.2,1265.7 1130.2,1250.2" fill="url(#g50)" />
<polygon points="1125.1,1205.1 1250.3,1175.1 1250.3,1182.6 1130.2,1217.6" fill="#d79a2b" />
<polygon points="1125.1,1162.6 1310.4,1107.5 1310.4,1127.5 1130.2,1183.8" fill="#a9a9a5" />
<path d="M1200.2,1145.1 C1201.9,1139.6 1211.9,1133.0 1220.3,1130.0 C1228.6,1127.1 1244.0,1125.9 1250.3,1127.5 C1256.6,1129.2 1259.5,1135.0 1257.8,1140.0 C1256.1,1145.1 1248.2,1153.8 1240.3,1157.6 C1232.4,1161.3 1216.9,1164.7 1210.3,1162.6 C1203.6,1160.5 1198.6,1150.5 1200.2,1145.1Z" fill="#ece3c8" />
<path d="M1295.4,1162.6 C1294.9,1159.4 1300.4,1155.3 1305.4,1153.8 C1310.4,1152.4 1319.1,1151.5 1325.4,1153.8 C1331.6,1156.1 1337.9,1159.9 1342.9,1167.6 C1347.9,1175.3 1352.9,1191.8 1355.4,1200.1 C1357.9,1208.5 1359.2,1213.3 1357.9,1217.6 C1356.7,1222.0 1353.3,1225.4 1347.9,1226.4 C1342.5,1227.4 1330.0,1226.6 1325.4,1223.9 C1320.8,1221.2 1321.6,1217.0 1320.4,1210.1 C1319.1,1203.2 1320.0,1188.9 1317.9,1182.6 C1315.8,1176.3 1311.6,1175.9 1307.9,1172.6 C1304.1,1169.2 1295.8,1165.7 1295.4,1162.6Z" fill="url(#g51)" />
<path d="M902.4,1311.5 C918.7,1310.5 973.3,1307.8 1000.0,1305.7 C1026.7,1303.7 1043.8,1301.6 1062.6,1299.0 C1081.3,1296.4 1098.0,1294.2 1112.6,1290.2 C1127.2,1286.3 1135.6,1280.5 1150.2,1275.2 C1164.8,1269.9 1181.5,1263.9 1200.2,1258.2 C1219.0,1252.4 1242.4,1246.1 1262.8,1240.7 C1283.3,1235.2 1312.9,1228.2 1322.9,1225.6" fill="none" stroke="#5e514c" stroke-width="21" stroke-linecap="butt"/>
<path d="M902.4,1308.0 C918.7,1307.0 973.3,1304.3 1000.0,1302.2 C1026.7,1300.2 1043.8,1298.1 1062.6,1295.5 C1081.3,1292.9 1098.0,1290.7 1112.6,1286.7 C1127.2,1282.8 1135.6,1277.0 1150.2,1271.7 C1164.8,1266.4 1181.5,1260.4 1200.2,1254.7 C1219.0,1248.9 1242.4,1242.6 1262.8,1237.2 C1283.3,1231.7 1312.9,1224.6 1322.9,1222.1" fill="none" stroke="#9d908a" stroke-width="8"/>
<path d="M927.8,1298.2 C931.1,1291.6 945.7,1294.1 950.3,1295.7 C954.9,1297.3 951.2,1307.0 955.3,1307.7 C959.5,1308.5 967.8,1301.1 975.4,1300.2 C982.9,1299.4 995.7,1299.4 1000.4,1302.7 C1005.1,1306.1 1006.7,1316.4 1003.4,1320.3 C1000.0,1324.1 984.6,1321.6 980.4,1325.8 C976.1,1329.9 982.0,1341.5 977.9,1345.3 C973.7,1349.0 963.3,1350.0 955.3,1348.3 C947.4,1346.6 934.9,1343.6 930.3,1335.3 C925.7,1326.9 924.5,1304.8 927.8,1298.2Z" fill="url(#g52)" />
<polygon points="276.4,517.5 352.8,517.5 352.8,562.6 345.3,571.3 285.2,571.3 276.4,562.6" fill="url(#g53)" />
<polygon points="285.2,522.5 288.2,522.5 288.2,570.1 285.2,570.1" fill="#77797a" />
<polygon points="295.7,522.5 298.7,522.5 298.7,570.1 295.7,570.1" fill="#77797a" />
<polygon points="306.2,522.5 309.2,522.5 309.2,570.1 306.2,570.1" fill="#77797a" />
<polygon points="316.7,522.5 319.7,522.5 319.7,570.1 316.7,570.1" fill="#77797a" />
<polygon points="327.2,522.5 330.2,522.5 330.2,570.1 327.2,570.1" fill="#77797a" />
<polygon points="337.7,522.5 340.8,522.5 340.8,570.1 337.7,570.1" fill="#77797a" />
<polygon points="348.3,522.5 351.3,522.5 351.3,570.1 348.3,570.1" fill="#77797a" />
<ellipse cx="315.2" cy="593.1" rx="65.6" ry="24.5" fill="#5d5f5f" />
<ellipse cx="315.2" cy="587.1" rx="51.3" ry="15.5" fill="#8a8382" />
<ellipse cx="315.2" cy="582.6" rx="40.0" ry="11.3" fill="#a9a4a3" />
<polygon points="266.4,612.6 370.3,610.1 383.3,645.1 380.3,660.2 315.2,666.4 252.6,660.2 250.1,645.1" fill="url(#g54)" />
<polygon points="249.6,650.2 315.2,666.4 384.6,650.2 385.8,680.2 375.3,720.2 315.2,728.2 260.2,717.7 249.6,680.2" fill="url(#g55)" />
<polygon points="249.6,650.2 315.2,666.4 384.6,650.2 384.6,660.2 315.2,676.4 249.6,660.2" fill="#66696a" />
<polygon points="272.7,725.2 365.3,720.2 365.3,755.3 342.8,760.8 342.8,795.3 320.2,804.3 280.2,795.3 266.4,785.8 266.4,770.3 277.7,765.3" fill="#4d4f50" />
<polygon points="290.2,732.8 340.3,730.3 340.3,770.3 290.2,770.3" fill="#5d5f60" />
<polygon points="232.1,638.9 240.1,637.6 241.6,682.7 248.1,683.9 248.1,690.2 235.1,688.2" fill="#8e9091" />
<polygon points="362.8,611.4 390.3,608.9 391.6,616.4 364.0,618.9" fill="#b9bbbb" />
</g>
<g id="leaders" fill="#111">
<polyline points="851.6,188.5 904.9,188.5 904.9,545.0" fill="none" stroke="#111" stroke-width="2"/><polygon points="904.9,545.0 898.7,528.0 904.9,532.5 911.1,528.0"/>
<polyline points="990.0,188.8 952.0,188.8 952.0,593.8" fill="none" stroke="#111" stroke-width="2"/><polygon points="952.0,593.8 945.8,576.8 952.0,581.3 958.2,576.8"/>
<polyline points="1315.0,206.8 1117.7,206.8 1117.7,356.5" fill="none" stroke="#111" stroke-width="2"/><polygon points="1117.7,356.5 1111.5,339.5 1117.7,344.0 1123.9,339.5"/>
<polyline points="1435.7,398.5 1182.8,398.5" fill="none" stroke="#111" stroke-width="2"/><polygon points="1182.8,398.5 1199.8,392.3 1195.3,398.5 1199.8,404.7"/>
<polyline points="1435.7,576.6 1260.4,576.6" fill="none" stroke="#111" stroke-width="2"/><polygon points="1260.4,576.6 1277.4,570.4 1272.9,576.6 1277.4,582.8"/>
<polyline points="1435.7,633.4 974.5,633.4 974.5,707.7" fill="none" stroke="#111" stroke-width="2"/><polygon points="974.5,707.7 968.3,690.7 974.5,695.2 980.7,690.7"/>
<polyline points="1435.7,675.7 1239.0,675.7" fill="none" stroke="#111" stroke-width="2"/><polygon points="1239.0,675.7 1256.0,669.5 1251.5,675.7 1256.0,681.9"/>
<polyline points="1435.7,717.7 1005.0,717.7" fill="none" stroke="#111" stroke-width="2"/><polygon points="1005.0,717.7 1022.0,711.5 1017.5,717.7 1022.0,723.9"/>
<polyline points="1435.7,753.5 1012.6,753.5" fill="none" stroke="#111" stroke-width="2"/><polygon points="1012.6,753.5 1029.6,747.3 1025.1,753.5 1029.6,759.7"/>
<polyline points="262.7,250.4 864.9,250.4 864.9,607.6" fill="none" stroke="#111" stroke-width="2"/><polygon points="864.9,607.6 858.7,590.6 864.9,595.1 871.1,590.6"/>
<polyline points="262.7,339.5 646.6,339.5 646.6,692.7" fill="none" stroke="#111" stroke-width="2"/><polygon points="646.6,692.7 640.4,675.7 646.6,680.2 652.8,675.7"/>
<polyline points="191.3,694.5 297.7,694.5" fill="none" stroke="#111" stroke-width="2"/><polygon points="297.7,694.5 280.7,688.3 285.2,694.5 280.7,700.7"/>
<polyline points="193.8,789.8 731.5,789.8" fill="none" stroke="#111" stroke-width="2"/><polygon points="731.5,789.8 714.5,783.6 719.0,789.8 714.5,796.0"/>
<polyline points="231.4,830.4 759.0,830.4" fill="none" stroke="#111" stroke-width="2"/><polygon points="759.0,830.4 742.0,824.2 746.5,830.4 742.0,836.6"/>
<polyline points="262.7,893.8 759.8,893.8" fill="none" stroke="#111" stroke-width="2"/><polygon points="759.8,893.8 742.8,887.6 747.3,893.8 742.8,900.0"/>
<polyline points="262.7,942.6 832.9,942.6" fill="none" stroke="#111" stroke-width="2"/><polygon points="832.9,942.6 815.9,936.4 820.4,942.6 815.9,948.8"/>
<polyline points="262.7,991.9 854.1,991.9" fill="none" stroke="#111" stroke-width="2"/><polygon points="854.1,991.9 837.1,985.7 841.6,991.9 837.1,998.1"/>
<polyline points="262.7,1034.5 882.9,1034.5" fill="none" stroke="#111" stroke-width="2"/><polygon points="882.9,1034.5 865.9,1028.3 870.4,1034.5 865.9,1040.7"/>
<polyline points="262.7,1114.8 455.4,1114.8" fill="none" stroke="#111" stroke-width="2"/><polygon points="455.4,1114.8 438.4,1108.6 442.9,1114.8 438.4,1121.0"/>
<polyline points="697.8,1414.0 697.8,1054.0" fill="none" stroke="#111" stroke-width="2"/><polygon points="697.8,1054.0 691.6,1071.0 697.8,1066.5 704.0,1071.0"/>
<polyline points="873.2,1414.0 873.2,1065.2" fill="none" stroke="#111" stroke-width="2"/><polygon points="873.2,1065.2 867.0,1082.2 873.2,1077.7 879.4,1082.2"/>
<polyline points="953.6,1414.0 953.6,1228.9" fill="none" stroke="#111" stroke-width="2"/><polygon points="953.6,1228.9 947.4,1245.9 953.6,1241.4 959.8,1245.9"/>
<polyline points="1105.9,1414.0 1105.9,1141.5" fill="none" stroke="#111" stroke-width="2"/><polygon points="1105.9,1141.5 1099.7,1158.5 1105.9,1154.0 1112.1,1158.5"/>
<polyline points="1174.0,1407.9 1174.0,1076.5" fill="none" stroke="#111" stroke-width="2"/><polygon points="1174.0,1076.5 1167.8,1093.5 1174.0,1089.0 1180.2,1093.5"/>
<polyline points="1273.8,1320.3 1273.8,1047.7" fill="none" stroke="#111" stroke-width="2"/><polygon points="1273.8,1047.7 1267.6,1064.7 1273.8,1060.2 1280.0,1064.7"/>
</g>
<g id="labels">
<text x="819.0" y="189.5">25</text>
<text x="994.0" y="189.5">1</text>
<text x="1321.6" y="205.5">2</text>
<text x="1441.7" y="399.0">3</text>
<text x="1441.7" y="577.0">4</text>
<text x="1441.7" y="631.4">5</text>
<text x="1441.7" y="677.7">6</text>
<text x="1441.7" y="718.5">7</text>
<text x="1441.7" y="752.8">8</text>
<text x="220.4" y="250.1">24</text>
<text x="221.6" y="338.2">23</text>
<text x="155.3" y="695.2">22</text>
<text x="157.8" y="789.0">21</text>
<text x="197.0" y="830.4">20</text>
<text x="232.0" y="893.8">19</text>
<text x="232.0" y="942.6">18</text>
<text x="232.0" y="991.4">17</text>
<text x="232.0" y="1034.0">16</text>
<text x="232.0" y="1115.3">15</text>
<text class="nb" transform="translate(704.8,1412.9) scale(0.8,1)">14</text>
<text class="nb" transform="translate(881.0,1412.9) scale(0.8,1)">13</text>
<text class="nb" transform="translate(959.4,1412.9) scale(0.8,1)">12</text>
<text class="nb" transform="translate(1108.2,1411.4) scale(0.8,1)">11</text>
<text x="1188.0" y="1408.4">10</text>
<text x="1284.0" y="1319.0">9</text>
</g>
</svg>
<div id="legend">
<div class="li" style="left:89.3px;top:29.0px">1 - 锁紧螺钉</div>
<div class="li" style="left:89.3px;top:62.4px">2 - 给料斗</div>
<div class="li" style="left:89.3px;top:95.7px">3 - 定锥</div>
<div class="li" style="left:89.3px;top:129.1px">4 - 调整环</div>
<div class="li" style="left:89.3px;top:162.4px">5 - 动锥球体</div>
<div class="li" style="left:89.3px;top:195.8px">6 - 主机架</div>
<div class="li" style="left:89.3px;top:229.1px">7 - 球面瓦</div>
<div class="li" style="left:89.3px;top:262.5px">8 - 动锥上衬套</div>
<div class="li" style="left:89.3px;top:295.8px">9 - 传动轴</div>
<div class="li" style="left:570.8px;top:29.0px">10 - 传动轴外轴套</div>
<div class="li" style="left:570.8px;top:62.4px">11 - 大、小齿轮</div>
<div class="li" style="left:570.8px;top:95.7px">12 - 主轴</div>
<div class="li" style="left:570.8px;top:129.1px">13 - 偏心套止推轴承</div>
<div class="li" style="left:570.8px;top:162.4px">14 - 配重护板</div>
<div class="li" style="left:570.8px;top:195.8px">15 - 过铁释放总成</div>
<div class="li" style="left:570.8px;top:229.1px">16 - 偏心套衬套</div>
<div class="li" style="left:570.8px;top:262.5px">17 - 偏心套</div>
<div class="li" style="left:570.8px;top:295.8px">18 - 动锥下衬套</div>
<div class="li" style="left:1051.9px;top:29.0px">19 - 动锥</div>
<div class="li" style="left:1051.9px;top:62.4px">20 - 动锥衬板</div>
<div class="li" style="left:1051.9px;top:95.7px">21 - 定锥衬板</div>
<div class="li" style="left:1051.9px;top:129.1px">22 - 液压调整马达</div>
<div class="li" style="left:1051.9px;top:162.4px">23 - 锁紧缸</div>
<div class="li" style="left:1051.9px;top:195.8px">24 - 切割环</div>
<div class="li" style="left:1051.9px;top:229.1px">25 - 给料盘</div>
</div>
</body></html>
